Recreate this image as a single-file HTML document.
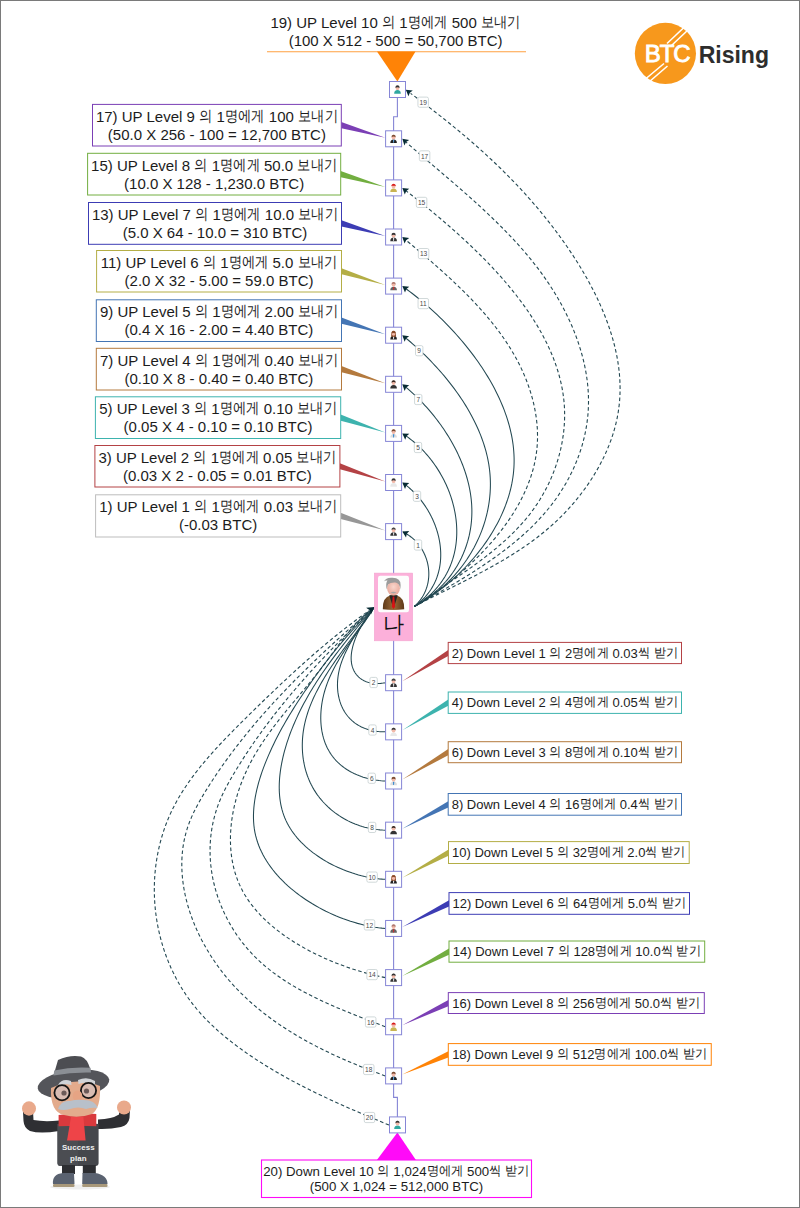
<!DOCTYPE html>
<html><head><meta charset="utf-8"><title>BTC Rising Success plan</title>
<style>
html,body{margin:0;padding:0;background:#fff;}
svg{display:block;font-family:"Liberation Sans",sans-serif;}
</style></head><body>
<svg width="800" height="1208" viewBox="0 0 800 1208">
<path d="M397.4 97 V116.7 H393.6 V1097.4 H397.4 V1117" fill="none" stroke="#8686d6" stroke-width="1.1"/>
<line x1="267" y1="51.7" x2="526" y2="51.7" stroke="#ffa040" stroke-width="1.15"/>
<polygon points="377,51.5 415.5,51.5 397.4,81.5" fill="#ff8306"/>
<text x="395.60" y="28.20" font-size="15" text-anchor="middle" fill="#1c1c1c" >19) UP Level 10 <tspan font-size="14.70" textLength="13.28" lengthAdjust="spacingAndGlyphs" baseline-shift="0.90">의</tspan> 1<tspan font-size="14.70" textLength="39.84" lengthAdjust="spacingAndGlyphs" baseline-shift="0.90">명에게</tspan> 500 <tspan font-size="14.70" textLength="39.84" lengthAdjust="spacingAndGlyphs" baseline-shift="0.90">보내기</tspan></text>
<text x="395.60" y="46.00" font-size="15" text-anchor="middle" fill="#1c1c1c" >(100 X 512 - 500 = 50,700 BTC)</text>
<polygon points="341.30,122.10 341.30,128.30 385.3,137.80" fill="#7b3fb5"/>
<rect x="92.50" y="104.40" width="248.80" height="41.60" fill="#fff" stroke="#7b3fb5" stroke-width="1"/>
<text x="216.90" y="121.90" font-size="15" text-anchor="middle" fill="#1c1c1c" >17) UP Level 9 <tspan font-size="14.70" textLength="13.28" lengthAdjust="spacingAndGlyphs" baseline-shift="0.90">의</tspan> 1<tspan font-size="14.70" textLength="39.84" lengthAdjust="spacingAndGlyphs" baseline-shift="0.90">명에게</tspan> 100 <tspan font-size="14.70" textLength="39.84" lengthAdjust="spacingAndGlyphs" baseline-shift="0.90">보내기</tspan></text>
<text x="216.90" y="139.80" font-size="15" text-anchor="middle" fill="#1c1c1c" >(50.0 X 256 - 100 = 12,700 BTC)</text>
<polygon points="340.70,171.05 340.70,177.25 385.3,186.90" fill="#72ae40"/>
<rect x="87.60" y="153.30" width="253.10" height="41.70" fill="#fff" stroke="#72ae40" stroke-width="1"/>
<text x="214.15" y="170.80" font-size="15" text-anchor="middle" fill="#1c1c1c" >15) UP Level 8 <tspan font-size="14.70" textLength="13.28" lengthAdjust="spacingAndGlyphs" baseline-shift="0.90">의</tspan> 1<tspan font-size="14.70" textLength="39.84" lengthAdjust="spacingAndGlyphs" baseline-shift="0.90">명에게</tspan> 50.0 <tspan font-size="14.70" textLength="39.84" lengthAdjust="spacingAndGlyphs" baseline-shift="0.90">보내기</tspan></text>
<text x="214.15" y="188.70" font-size="15" text-anchor="middle" fill="#1c1c1c" >(10.0 X 128 - 1,230.0 BTC)</text>
<polygon points="341.50,220.30 341.50,226.50 385.3,236.00" fill="#3c3cb4"/>
<rect x="88.50" y="202.50" width="253.00" height="41.80" fill="#fff" stroke="#3c3cb4" stroke-width="1"/>
<text x="215.00" y="220.00" font-size="15" text-anchor="middle" fill="#1c1c1c" >13) UP Level 7 <tspan font-size="14.70" textLength="13.28" lengthAdjust="spacingAndGlyphs" baseline-shift="0.90">의</tspan> 1<tspan font-size="14.70" textLength="39.84" lengthAdjust="spacingAndGlyphs" baseline-shift="0.90">명에게</tspan> 10.0 <tspan font-size="14.70" textLength="39.84" lengthAdjust="spacingAndGlyphs" baseline-shift="0.90">보내기</tspan></text>
<text x="215.00" y="237.90" font-size="15" text-anchor="middle" fill="#1c1c1c" >(5.0 X 64 - 10.0 = 310 BTC)</text>
<polygon points="341.50,268.15 341.50,274.35 385.3,285.10" fill="#b4ae46"/>
<rect x="96.60" y="250.50" width="244.90" height="41.50" fill="#fff" stroke="#b4ae46" stroke-width="1"/>
<text x="219.05" y="268.00" font-size="15" text-anchor="middle" fill="#1c1c1c" >11) UP Level 6 <tspan font-size="14.70" textLength="13.28" lengthAdjust="spacingAndGlyphs" baseline-shift="0.90">의</tspan> 1<tspan font-size="14.70" textLength="39.84" lengthAdjust="spacingAndGlyphs" baseline-shift="0.90">명에게</tspan> 5.0 <tspan font-size="14.70" textLength="39.84" lengthAdjust="spacingAndGlyphs" baseline-shift="0.90">보내기</tspan></text>
<text x="219.05" y="285.90" font-size="15" text-anchor="middle" fill="#1c1c1c" >(2.0 X 32 - 5.00 = 59.0 BTC)</text>
<polygon points="341.50,317.55 341.50,323.75 385.3,334.20" fill="#4475b4"/>
<rect x="96.30" y="299.80" width="245.20" height="41.70" fill="#fff" stroke="#4475b4" stroke-width="1"/>
<text x="218.90" y="317.30" font-size="15" text-anchor="middle" fill="#1c1c1c" >9) UP Level 5 <tspan font-size="14.70" textLength="13.28" lengthAdjust="spacingAndGlyphs" baseline-shift="0.90">의</tspan> 1<tspan font-size="14.70" textLength="39.84" lengthAdjust="spacingAndGlyphs" baseline-shift="0.90">명에게</tspan> 2.00 <tspan font-size="14.70" textLength="39.84" lengthAdjust="spacingAndGlyphs" baseline-shift="0.90">보내기</tspan></text>
<text x="218.90" y="335.20" font-size="15" text-anchor="middle" fill="#1c1c1c" >(0.4 X 16 - 2.00 = 4.40 BTC)</text>
<polygon points="341.50,366.05 341.50,372.25 385.3,383.30" fill="#b47a3e"/>
<rect x="96.30" y="348.30" width="245.20" height="41.70" fill="#fff" stroke="#b47a3e" stroke-width="1"/>
<text x="218.90" y="365.80" font-size="15" text-anchor="middle" fill="#1c1c1c" >7) UP Level 4 <tspan font-size="14.70" textLength="13.28" lengthAdjust="spacingAndGlyphs" baseline-shift="0.90">의</tspan> 1<tspan font-size="14.70" textLength="39.84" lengthAdjust="spacingAndGlyphs" baseline-shift="0.90">명에게</tspan> 0.40 <tspan font-size="14.70" textLength="39.84" lengthAdjust="spacingAndGlyphs" baseline-shift="0.90">보내기</tspan></text>
<text x="218.90" y="383.70" font-size="15" text-anchor="middle" fill="#1c1c1c" >(0.10 X 8 - 0.40 = 0.40 BTC)</text>
<polygon points="340.70,414.55 340.70,420.75 385.3,432.40" fill="#3db3ae"/>
<rect x="95.40" y="396.80" width="245.30" height="41.70" fill="#fff" stroke="#3db3ae" stroke-width="1"/>
<text x="218.05" y="414.30" font-size="15" text-anchor="middle" fill="#1c1c1c" >5) UP Level 3 <tspan font-size="14.70" textLength="13.28" lengthAdjust="spacingAndGlyphs" baseline-shift="0.90">의</tspan> 1<tspan font-size="14.70" textLength="39.84" lengthAdjust="spacingAndGlyphs" baseline-shift="0.90">명에게</tspan> 0.10 <tspan font-size="14.70" textLength="39.84" lengthAdjust="spacingAndGlyphs" baseline-shift="0.90">보내기</tspan></text>
<text x="218.05" y="432.20" font-size="15" text-anchor="middle" fill="#1c1c1c" >(0.05 X 4 - 0.10 = 0.10 BTC)</text>
<polygon points="339.90,463.15 339.90,469.35 385.3,481.50" fill="#b44245"/>
<rect x="94.90" y="445.50" width="245.00" height="41.50" fill="#fff" stroke="#b44245" stroke-width="1"/>
<text x="217.40" y="463.00" font-size="15" text-anchor="middle" fill="#1c1c1c" >3) UP Level 2 <tspan font-size="14.70" textLength="13.28" lengthAdjust="spacingAndGlyphs" baseline-shift="0.90">의</tspan> 1<tspan font-size="14.70" textLength="39.84" lengthAdjust="spacingAndGlyphs" baseline-shift="0.90">명에게</tspan> 0.05 <tspan font-size="14.70" textLength="39.84" lengthAdjust="spacingAndGlyphs" baseline-shift="0.90">보내기</tspan></text>
<text x="217.40" y="480.90" font-size="15" text-anchor="middle" fill="#1c1c1c" >(0.03 X 2 - 0.05 = 0.01 BTC)</text>
<polygon points="340.70,512.80 340.70,519.00 385.3,530.60" fill="#979797"/>
<rect x="95.60" y="494.80" width="245.10" height="42.20" fill="#fff" stroke="#bdbdbd" stroke-width="1"/>
<text x="218.15" y="512.30" font-size="15" text-anchor="middle" fill="#1c1c1c" >1) UP Level 1 <tspan font-size="14.70" textLength="13.28" lengthAdjust="spacingAndGlyphs" baseline-shift="0.90">의</tspan> 1<tspan font-size="14.70" textLength="39.84" lengthAdjust="spacingAndGlyphs" baseline-shift="0.90">명에게</tspan> 0.03 <tspan font-size="14.70" textLength="39.84" lengthAdjust="spacingAndGlyphs" baseline-shift="0.90">보내기</tspan></text>
<text x="218.15" y="530.20" font-size="15" text-anchor="middle" fill="#1c1c1c" >(-0.03 BTC)</text>
<polygon points="448.20,649.90 448.20,656.10 402.3,681.20" fill="#b44245"/>
<rect x="448.20" y="642.40" width="233.30" height="21.20" fill="#fff" stroke="#b44245" stroke-width="1"/>
<text x="564.85" y="657.70" font-size="13" text-anchor="middle" fill="#1c1c1c" >2) Down Level 1 <tspan font-size="12.74" textLength="12.20" lengthAdjust="spacingAndGlyphs" baseline-shift="0.78">의</tspan> 2<tspan font-size="12.74" textLength="36.60" lengthAdjust="spacingAndGlyphs" baseline-shift="0.78">명에게</tspan> 0.03<tspan font-size="12.74" textLength="12.20" lengthAdjust="spacingAndGlyphs" baseline-shift="0.78">씩</tspan> <tspan font-size="12.74" textLength="24.40" lengthAdjust="spacingAndGlyphs" baseline-shift="0.78">받기</tspan></text>
<polygon points="448.20,699.60 448.20,705.80 402.3,730.35" fill="#3db3ae"/>
<rect x="448.20" y="692.00" width="233.30" height="21.40" fill="#fff" stroke="#3db3ae" stroke-width="1"/>
<text x="564.85" y="707.30" font-size="13" text-anchor="middle" fill="#1c1c1c" >4) Down Level 2 <tspan font-size="12.74" textLength="12.20" lengthAdjust="spacingAndGlyphs" baseline-shift="0.78">의</tspan> 4<tspan font-size="12.74" textLength="36.60" lengthAdjust="spacingAndGlyphs" baseline-shift="0.78">명에게</tspan> 0.05<tspan font-size="12.74" textLength="12.20" lengthAdjust="spacingAndGlyphs" baseline-shift="0.78">씩</tspan> <tspan font-size="12.74" textLength="24.40" lengthAdjust="spacingAndGlyphs" baseline-shift="0.78">받기</tspan></text>
<polygon points="448.20,749.10 448.20,755.30 402.3,779.50" fill="#b47a3e"/>
<rect x="448.20" y="741.70" width="233.30" height="21.00" fill="#fff" stroke="#b47a3e" stroke-width="1"/>
<text x="564.85" y="757.00" font-size="13" text-anchor="middle" fill="#1c1c1c" >6) Down Level 3 <tspan font-size="12.74" textLength="12.20" lengthAdjust="spacingAndGlyphs" baseline-shift="0.78">의</tspan> 8<tspan font-size="12.74" textLength="36.60" lengthAdjust="spacingAndGlyphs" baseline-shift="0.78">명에게</tspan> 0.10<tspan font-size="12.74" textLength="12.20" lengthAdjust="spacingAndGlyphs" baseline-shift="0.78">씩</tspan> <tspan font-size="12.74" textLength="24.40" lengthAdjust="spacingAndGlyphs" baseline-shift="0.78">받기</tspan></text>
<polygon points="448.20,801.25 448.20,807.45 402.3,828.65" fill="#4475b4"/>
<rect x="448.20" y="793.50" width="233.30" height="21.70" fill="#fff" stroke="#4475b4" stroke-width="1"/>
<text x="564.85" y="808.80" font-size="13" text-anchor="middle" fill="#1c1c1c" >8) Down Level 4 <tspan font-size="12.74" textLength="12.20" lengthAdjust="spacingAndGlyphs" baseline-shift="0.78">의</tspan> 16<tspan font-size="12.74" textLength="36.60" lengthAdjust="spacingAndGlyphs" baseline-shift="0.78">명에게</tspan> 0.4<tspan font-size="12.74" textLength="12.20" lengthAdjust="spacingAndGlyphs" baseline-shift="0.78">씩</tspan> <tspan font-size="12.74" textLength="24.40" lengthAdjust="spacingAndGlyphs" baseline-shift="0.78">받기</tspan></text>
<polygon points="448.50,849.45 448.50,855.65 402.3,877.80" fill="#b4ae46"/>
<rect x="448.50" y="841.60" width="240.70" height="21.90" fill="#fff" stroke="#b4ae46" stroke-width="1"/>
<text x="568.85" y="856.90" font-size="13" text-anchor="middle" fill="#1c1c1c" >10) Down Level 5 <tspan font-size="12.74" textLength="12.20" lengthAdjust="spacingAndGlyphs" baseline-shift="0.78">의</tspan> 32<tspan font-size="12.74" textLength="36.60" lengthAdjust="spacingAndGlyphs" baseline-shift="0.78">명에게</tspan> 2.0<tspan font-size="12.74" textLength="12.20" lengthAdjust="spacingAndGlyphs" baseline-shift="0.78">씩</tspan> <tspan font-size="12.74" textLength="24.40" lengthAdjust="spacingAndGlyphs" baseline-shift="0.78">받기</tspan></text>
<polygon points="449.00,900.35 449.00,906.55 402.3,926.95" fill="#3c3cb4"/>
<rect x="449.00" y="892.60" width="240.50" height="21.70" fill="#fff" stroke="#3c3cb4" stroke-width="1"/>
<text x="569.25" y="907.90" font-size="13" text-anchor="middle" fill="#1c1c1c" >12) Down Level 6 <tspan font-size="12.74" textLength="12.20" lengthAdjust="spacingAndGlyphs" baseline-shift="0.78">의</tspan> 64<tspan font-size="12.74" textLength="36.60" lengthAdjust="spacingAndGlyphs" baseline-shift="0.78">명에게</tspan> 5.0<tspan font-size="12.74" textLength="12.20" lengthAdjust="spacingAndGlyphs" baseline-shift="0.78">씩</tspan> <tspan font-size="12.74" textLength="24.40" lengthAdjust="spacingAndGlyphs" baseline-shift="0.78">받기</tspan></text>
<polygon points="449.00,948.50 449.00,954.70 402.3,976.10" fill="#72ae40"/>
<rect x="449.00" y="941.00" width="255.70" height="21.20" fill="#fff" stroke="#72ae40" stroke-width="1"/>
<text x="576.85" y="956.30" font-size="13" text-anchor="middle" fill="#1c1c1c" >14) Down Level 7 <tspan font-size="12.74" textLength="12.20" lengthAdjust="spacingAndGlyphs" baseline-shift="0.78">의</tspan> 128<tspan font-size="12.74" textLength="36.60" lengthAdjust="spacingAndGlyphs" baseline-shift="0.78">명에게</tspan> 10.0<tspan font-size="12.74" textLength="12.20" lengthAdjust="spacingAndGlyphs" baseline-shift="0.78">씩</tspan> <tspan font-size="12.74" textLength="24.40" lengthAdjust="spacingAndGlyphs" baseline-shift="0.78">받기</tspan></text>
<polygon points="448.30,999.95 448.30,1006.15 402.3,1025.25" fill="#7b3fb5"/>
<rect x="448.30" y="992.60" width="256.00" height="20.90" fill="#fff" stroke="#7b3fb5" stroke-width="1"/>
<text x="576.30" y="1007.90" font-size="13" text-anchor="middle" fill="#1c1c1c" >16) Down Level 8 <tspan font-size="12.74" textLength="12.20" lengthAdjust="spacingAndGlyphs" baseline-shift="0.78">의</tspan> 256<tspan font-size="12.74" textLength="36.60" lengthAdjust="spacingAndGlyphs" baseline-shift="0.78">명에게</tspan> 50.0<tspan font-size="12.74" textLength="12.20" lengthAdjust="spacingAndGlyphs" baseline-shift="0.78">씩</tspan> <tspan font-size="12.74" textLength="24.40" lengthAdjust="spacingAndGlyphs" baseline-shift="0.78">받기</tspan></text>
<polygon points="448.30,1051.35 448.30,1057.55 402.3,1074.40" fill="#ff8306"/>
<rect x="448.30" y="1043.60" width="262.95" height="21.70" fill="#fff" stroke="#ff8306" stroke-width="1"/>
<text x="579.77" y="1058.90" font-size="13" text-anchor="middle" fill="#1c1c1c" >18) Down Level 9 <tspan font-size="12.74" textLength="12.20" lengthAdjust="spacingAndGlyphs" baseline-shift="0.78">의</tspan> 512<tspan font-size="12.74" textLength="36.60" lengthAdjust="spacingAndGlyphs" baseline-shift="0.78">명에게</tspan> 100.0<tspan font-size="12.74" textLength="12.20" lengthAdjust="spacingAndGlyphs" baseline-shift="0.78">씩</tspan> <tspan font-size="12.74" textLength="24.40" lengthAdjust="spacingAndGlyphs" baseline-shift="0.78">받기</tspan></text>
<polygon points="376.9,1160 415.9,1160 397.4,1132.5" fill="#ff0af8"/>
<rect x="261.5" y="1160" width="270" height="37.5" fill="#fff" stroke="#ff0af8" stroke-width="1.1"/>
<text x="396.50" y="1175.60" font-size="13.25" text-anchor="middle" fill="#1c1c1c" >20) Down Level 10 <tspan font-size="12.98" textLength="12.30" lengthAdjust="spacingAndGlyphs" baseline-shift="0.79">의</tspan> 1,024<tspan font-size="12.98" textLength="36.90" lengthAdjust="spacingAndGlyphs" baseline-shift="0.79">명에게</tspan> 500<tspan font-size="12.98" textLength="12.30" lengthAdjust="spacingAndGlyphs" baseline-shift="0.79">씩</tspan> <tspan font-size="12.98" textLength="24.60" lengthAdjust="spacingAndGlyphs" baseline-shift="0.79">받기</tspan></text>
<text x="396.50" y="1191.20" font-size="13.25" text-anchor="middle" fill="#1c1c1c" >(500 X 1,024 = 512,000 BTC)</text>
<path d="M414.25 606.50 L414.85 605.96 L415.44 605.41 L416.02 604.85 L416.58 604.28 L417.13 603.71 L417.67 603.13 L418.19 602.54 L418.70 601.95 L419.20 601.35 L419.68 600.75 L420.16 600.13 L420.61 599.51 L421.06 598.89 L421.49 598.26 L421.91 597.62 L422.32 596.98 L422.71 596.34 L423.10 595.69 L423.47 595.03 L423.82 594.37 L424.17 593.70 L424.50 593.03 L424.82 592.36 L425.12 591.68 L425.42 591.00 L425.70 590.31 L425.97 589.62 L426.22 588.93 L426.47 588.23 L426.70 587.53 L426.92 586.82 L427.13 586.12 L427.32 585.41 L427.51 584.70 L427.68 583.98 L427.84 583.27 L427.98 582.55 L428.12 581.83 L428.24 581.11 L428.35 580.38 L428.45 579.66 L428.54 578.93 L428.61 578.20 L428.68 577.47 L428.73 576.74 L428.77 576.01 L428.80 575.28 L428.81 574.55 L428.82 573.82 L428.81 573.09 L428.79 572.36 L428.76 571.63 L428.72 570.90 L428.67 570.17 L428.61 569.44 L428.53 568.71 L428.44 567.98 L428.34 567.26 L428.23 566.53 L428.11 565.81 L427.98 565.09 L427.84 564.37 L427.68 563.65 L427.52 562.94 L427.34 562.22 L427.15 561.51 L426.96 560.81 L426.75 560.10 L426.53 559.40 L426.29 558.70 L426.05 558.01 L425.80 557.31 L425.53 556.62 L425.26 555.94 L424.97 555.26 L424.68 554.58 L424.37 553.91 L424.05 553.24 L423.73 552.58 L423.39 551.92 L423.04 551.27 L422.68 550.62 L422.31 549.97 L421.93 549.34 L421.54 548.70 L421.13 548.08 L420.72 547.45 L420.30 546.84 L419.87 546.23 L419.42 545.63 L418.97 545.03 L418.51 544.44 L418.04 543.86 L417.55 543.28 L417.06 542.71 L416.56 542.15 L416.04 541.60 L415.52 541.05 L414.99 540.51 L414.44 539.98 L413.89 539.46 L413.33 538.94 L412.76 538.44 L412.18 537.94 L411.58 537.45 L410.98 536.97 L410.37 536.50 L409.75 536.04 L409.12 535.58 L408.48 535.14 L407.83 534.70 L407.17 534.28 L406.50 533.87 L405.83 533.46 L405.14 533.07 L404.44 532.69 L403.74 532.31 L403.02 531.95" fill="none" stroke="#234852" stroke-width="1.05"/>
<polygon points="402.30,531.60 409.28,531.12 406.76,533.87 406.01,537.53" fill="#072b34"/>
<path d="M414.25 606.50 L415.36 605.70 L416.45 604.89 L417.51 604.07 L418.54 603.23 L419.55 602.38 L420.53 601.51 L421.49 600.64 L422.42 599.75 L423.33 598.84 L424.21 597.93 L425.07 597.00 L425.90 596.06 L426.71 595.11 L427.50 594.15 L428.26 593.18 L428.99 592.20 L429.71 591.21 L430.39 590.20 L431.06 589.19 L431.70 588.17 L432.32 587.14 L432.92 586.10 L433.49 585.05 L434.04 583.99 L434.56 582.93 L435.07 581.85 L435.55 580.77 L436.01 579.68 L436.44 578.59 L436.86 577.48 L437.25 576.37 L437.62 575.26 L437.97 574.13 L438.30 573.01 L438.61 571.87 L438.89 570.73 L439.15 569.59 L439.40 568.44 L439.62 567.28 L439.82 566.12 L440.00 564.96 L440.16 563.79 L440.30 562.62 L440.42 561.45 L440.52 560.27 L440.60 559.09 L440.66 557.91 L440.71 556.73 L440.73 555.54 L440.73 554.35 L440.71 553.16 L440.68 551.97 L440.62 550.77 L440.55 549.58 L440.46 548.39 L440.35 547.19 L440.22 546.00 L440.07 544.80 L439.91 543.61 L439.72 542.42 L439.52 541.22 L439.31 540.03 L439.07 538.84 L438.82 537.65 L438.55 536.47 L438.26 535.28 L437.96 534.10 L437.63 532.93 L437.30 531.75 L436.94 530.58 L436.57 529.41 L436.19 528.24 L435.78 527.08 L435.36 525.93 L434.93 524.78 L434.48 523.63 L434.01 522.49 L433.53 521.35 L433.04 520.22 L432.53 519.09 L432.00 517.97 L431.46 516.86 L430.90 515.76 L430.33 514.66 L429.75 513.56 L429.15 512.48 L428.54 511.40 L427.91 510.33 L427.27 509.27 L426.61 508.22 L425.95 507.18 L425.26 506.14 L424.57 505.11 L423.86 504.10 L423.14 503.09 L422.41 502.09 L421.66 501.11 L420.90 500.13 L420.13 499.17 L419.35 498.21 L418.55 497.27 L417.74 496.34 L416.92 495.42 L416.09 494.51 L415.25 493.61 L414.39 492.73 L413.53 491.86 L412.65 491.00 L411.76 490.16 L410.86 489.33 L409.95 488.51 L409.03 487.71 L408.10 486.92 L407.16 486.14 L406.21 485.38 L405.24 484.64 L404.27 483.91 L403.29 483.20" fill="none" stroke="#234852" stroke-width="1.05"/>
<polygon points="402.30,482.50 409.27,483.12 406.34,485.44 405.03,488.94" fill="#072b34"/>
<path d="M414.25 606.50 L415.95 605.48 L417.61 604.43 L419.23 603.37 L420.82 602.28 L422.37 601.16 L423.88 600.03 L425.36 598.88 L426.80 597.70 L428.20 596.51 L429.57 595.29 L430.90 594.06 L432.19 592.81 L433.45 591.53 L434.68 590.24 L435.87 588.94 L437.02 587.61 L438.14 586.27 L439.23 584.91 L440.28 583.54 L441.29 582.15 L442.27 580.74 L443.22 579.32 L444.14 577.89 L445.02 576.44 L445.86 574.97 L446.68 573.50 L447.46 572.01 L448.21 570.51 L448.92 568.99 L449.60 567.47 L450.25 565.93 L450.87 564.38 L451.46 562.82 L452.01 561.26 L452.54 559.68 L453.03 558.09 L453.49 556.49 L453.92 554.89 L454.32 553.27 L454.68 551.65 L455.02 550.03 L455.33 548.39 L455.61 546.75 L455.85 545.10 L456.07 543.45 L456.26 541.79 L456.42 540.12 L456.54 538.46 L456.64 536.78 L456.71 535.11 L456.76 533.43 L456.77 531.74 L456.76 530.06 L456.71 528.37 L456.64 526.68 L456.55 524.99 L456.42 523.30 L456.27 521.61 L456.09 519.92 L455.88 518.23 L455.64 516.54 L455.38 514.85 L455.09 513.16 L454.78 511.47 L454.44 509.79 L454.07 508.11 L453.68 506.43 L453.26 504.76 L452.82 503.09 L452.35 501.42 L451.86 499.76 L451.34 498.10 L450.80 496.45 L450.23 494.81 L449.64 493.17 L449.03 491.53 L448.39 489.91 L447.72 488.29 L447.04 486.68 L446.33 485.08 L445.59 483.49 L444.84 481.91 L444.06 480.33 L443.25 478.77 L442.43 477.21 L441.58 475.67 L440.71 474.14 L439.82 472.62 L438.91 471.11 L437.97 469.62 L437.02 468.13 L436.04 466.66 L435.04 465.21 L434.02 463.76 L432.98 462.34 L431.92 460.92 L430.84 459.52 L429.74 458.14 L428.62 456.77 L427.48 455.42 L426.32 454.09 L425.14 452.77 L423.94 451.47 L422.73 450.19 L421.49 448.93 L420.23 447.69 L418.96 446.46 L417.67 445.25 L416.36 444.07 L415.03 442.90 L413.68 441.76 L412.32 440.64 L410.94 439.54 L409.54 438.46 L408.13 437.40 L406.69 436.36 L405.25 435.35 L403.78 434.36" fill="none" stroke="#234852" stroke-width="1.05"/>
<polygon points="402.30,433.40 409.29,433.77 406.45,436.20 405.26,439.74" fill="#072b34"/>
<path d="M414.25 606.50 L416.42 605.29 L418.55 604.05 L420.64 602.78 L422.69 601.47 L424.70 600.13 L426.67 598.76 L428.59 597.36 L430.48 595.93 L432.32 594.46 L434.12 592.97 L435.87 591.45 L437.59 589.91 L439.26 588.33 L440.90 586.73 L442.49 585.10 L444.04 583.45 L445.55 581.77 L447.01 580.07 L448.44 578.34 L449.82 576.59 L451.16 574.82 L452.46 573.03 L453.71 571.21 L454.93 569.38 L456.10 567.52 L457.23 565.65 L458.32 563.76 L459.37 561.85 L460.37 559.92 L461.34 557.98 L462.26 556.02 L463.14 554.04 L463.97 552.05 L464.77 550.05 L465.52 548.03 L466.23 546.00 L466.90 543.95 L467.53 541.90 L468.11 539.83 L468.66 537.75 L469.16 535.66 L469.61 533.57 L470.03 531.46 L470.40 529.35 L470.74 527.23 L471.03 525.10 L471.27 522.97 L471.48 520.83 L471.64 518.69 L471.76 516.54 L471.84 514.39 L471.88 512.23 L471.87 510.07 L471.82 507.91 L471.73 505.75 L471.60 503.59 L471.42 501.43 L471.21 499.27 L470.95 497.11 L470.66 494.95 L470.33 492.79 L469.95 490.63 L469.54 488.48 L469.10 486.33 L468.61 484.18 L468.09 482.03 L467.53 479.89 L466.94 477.75 L466.32 475.62 L465.65 473.49 L464.96 471.37 L464.23 469.25 L463.47 467.14 L462.68 465.04 L461.85 462.94 L460.99 460.85 L460.11 458.77 L459.19 456.70 L458.24 454.64 L457.27 452.59 L456.27 450.54 L455.23 448.51 L454.17 446.49 L453.09 444.48 L451.98 442.48 L450.84 440.49 L449.68 438.51 L448.49 436.55 L447.27 434.60 L446.04 432.66 L444.78 430.74 L443.50 428.83 L442.19 426.94 L440.87 425.06 L439.52 423.20 L438.16 421.35 L436.77 419.52 L435.36 417.71 L433.94 415.91 L432.50 414.13 L431.03 412.37 L429.56 410.63 L428.06 408.91 L426.55 407.21 L425.02 405.53 L423.48 403.87 L421.92 402.22 L420.35 400.60 L418.77 399.01 L417.17 397.43 L415.56 395.88 L413.94 394.34 L412.31 392.84 L410.66 391.35 L409.01 389.89 L407.34 388.46 L405.67 387.05 L403.99 385.66" fill="none" stroke="#234852" stroke-width="1.05"/>
<polygon points="402.30,384.30 409.22,385.34 406.16,387.48 404.64,390.90" fill="#072b34"/>
<path d="M414.25 606.50 L416.84 605.11 L419.39 603.68 L421.90 602.20 L424.37 600.68 L426.80 599.11 L429.20 597.50 L431.55 595.84 L433.87 594.14 L436.14 592.40 L438.37 590.62 L440.56 588.80 L442.71 586.95 L444.82 585.05 L446.88 583.12 L448.90 581.15 L450.88 579.15 L452.81 577.11 L454.70 575.04 L456.55 572.94 L458.35 570.81 L460.11 568.64 L461.82 566.45 L463.49 564.22 L465.10 561.97 L466.68 559.70 L468.20 557.39 L469.68 555.06 L471.11 552.71 L472.49 550.33 L473.83 547.93 L475.11 545.51 L476.35 543.07 L477.54 540.60 L478.67 538.12 L479.76 535.62 L480.80 533.10 L481.78 530.57 L482.72 528.02 L483.60 525.46 L484.43 522.88 L485.21 520.29 L485.93 517.69 L486.61 515.07 L487.23 512.45 L487.79 509.81 L488.30 507.17 L488.76 504.52 L489.16 501.86 L489.50 499.20 L489.79 496.53 L490.03 493.86 L490.20 491.19 L490.33 488.51 L490.39 485.83 L490.40 483.15 L490.34 480.47 L490.23 477.79 L490.06 475.12 L489.84 472.45 L489.55 469.78 L489.20 467.11 L488.80 464.45 L488.34 461.80 L487.82 459.15 L487.25 456.51 L486.62 453.87 L485.94 451.24 L485.21 448.62 L484.42 446.01 L483.59 443.40 L482.71 440.81 L481.77 438.22 L480.80 435.64 L479.77 433.08 L478.70 430.52 L477.59 427.98 L476.43 425.44 L475.23 422.92 L473.99 420.41 L472.71 417.92 L471.40 415.44 L470.04 412.97 L468.64 410.51 L467.21 408.07 L465.75 405.64 L464.25 403.23 L462.72 400.84 L461.15 398.46 L459.56 396.10 L457.93 393.76 L456.28 391.43 L454.60 389.12 L452.89 386.83 L451.15 384.56 L449.39 382.31 L447.61 380.08 L445.80 377.87 L443.98 375.67 L442.13 373.50 L440.26 371.36 L438.37 369.23 L436.46 367.12 L434.54 365.04 L432.60 362.99 L430.65 360.95 L428.68 358.94 L426.70 356.95 L424.71 354.99 L422.70 353.06 L420.69 351.15 L418.67 349.27 L416.64 347.41 L414.60 345.58 L412.56 343.78 L410.51 342.01 L408.46 340.26 L406.41 338.54 L404.35 336.86" fill="none" stroke="#234852" stroke-width="1.05"/>
<polygon points="402.30,335.20 409.22,336.23 406.16,338.37 404.65,341.79" fill="#072b34"/>
<path d="M414.25 606.50 L417.09 604.94 L419.92 603.33 L422.74 601.65 L425.54 599.92 L428.33 598.13 L431.11 596.28 L433.86 594.38 L436.60 592.43 L439.31 590.42 L442.00 588.37 L444.66 586.26 L447.30 584.11 L449.92 581.91 L452.50 579.66 L455.05 577.36 L457.57 575.02 L460.06 572.64 L462.51 570.22 L464.92 567.75 L467.29 565.25 L469.63 562.70 L471.92 560.12 L474.17 557.51 L476.38 554.85 L478.54 552.16 L480.65 549.44 L482.71 546.69 L484.72 543.91 L486.68 541.09 L488.59 538.25 L490.44 535.38 L492.23 532.48 L493.96 529.56 L495.63 526.61 L497.24 523.64 L498.79 520.65 L500.28 517.63 L501.69 514.60 L503.04 511.55 L504.32 508.48 L505.53 505.39 L506.66 502.29 L507.73 499.17 L508.71 496.04 L509.62 492.90 L510.45 489.75 L511.20 486.59 L511.87 483.42 L512.45 480.24 L512.95 477.05 L513.36 473.86 L513.68 470.66 L513.92 467.46 L514.06 464.26 L514.12 461.06 L514.09 457.85 L513.97 454.65 L513.77 451.45 L513.49 448.24 L513.13 445.04 L512.69 441.84 L512.17 438.65 L511.57 435.46 L510.90 432.28 L510.16 429.10 L509.34 425.92 L508.46 422.76 L507.50 419.60 L506.48 416.45 L505.39 413.31 L504.24 410.18 L503.02 407.06 L501.74 403.95 L500.41 400.86 L499.01 397.78 L497.56 394.71 L496.05 391.65 L494.49 388.61 L492.87 385.59 L491.21 382.58 L489.49 379.59 L487.73 376.62 L485.92 373.67 L484.06 370.74 L482.17 367.83 L480.22 364.93 L478.24 362.07 L476.22 359.22 L474.16 356.39 L472.07 353.59 L469.94 350.82 L467.78 348.07 L465.59 345.35 L463.36 342.65 L461.11 339.98 L458.83 337.34 L456.52 334.73 L454.19 332.14 L451.84 329.59 L449.47 327.07 L447.07 324.59 L444.66 322.13 L442.23 319.71 L439.79 317.32 L437.33 314.97 L434.86 312.65 L432.38 310.37 L429.89 308.12 L427.39 305.92 L424.89 303.75 L422.38 301.62 L419.86 299.54 L417.35 297.49 L414.83 295.48 L412.32 293.52 L409.81 291.60 L407.30 289.72 L404.80 287.89" fill="none" stroke="#234852" stroke-width="1.05"/>
<polygon points="402.30,286.10 409.27,286.74 406.33,289.05 405.01,292.55" fill="#072b34"/>
<path d="M414.25 606.50 L417.39 604.56 L420.54 602.58 L423.70 600.54 L426.87 598.44 L430.04 596.30 L433.21 594.10 L436.38 591.86 L439.54 589.56 L442.70 587.22 L445.85 584.83 L448.98 582.39 L452.11 579.91 L455.21 577.38 L458.30 574.80 L461.36 572.19 L464.40 569.52 L467.42 566.82 L470.40 564.07 L473.35 561.28 L476.27 558.46 L479.15 555.59 L482.00 552.68 L484.80 549.74 L487.55 546.75 L490.26 543.73 L492.92 540.68 L495.53 537.59 L498.09 534.46 L500.59 531.30 L503.03 528.11 L505.40 524.88 L507.72 521.63 L509.96 518.34 L512.14 515.02 L514.25 511.68 L516.28 508.30 L518.23 504.90 L520.11 501.47 L521.90 498.01 L523.61 494.53 L525.24 491.02 L526.77 487.49 L528.21 483.93 L529.56 480.35 L530.82 476.75 L531.97 473.13 L533.02 469.49 L533.97 465.83 L534.81 462.14 L535.54 458.45 L536.16 454.73 L536.66 450.99 L537.05 447.24 L537.33 443.48 L537.49 439.70 L537.53 435.91 L537.47 432.12 L537.30 428.32 L537.02 424.51 L536.63 420.70 L536.14 416.90 L535.55 413.09 L534.87 409.29 L534.08 405.50 L533.20 401.71 L532.22 397.94 L531.15 394.18 L529.99 390.43 L528.75 386.70 L527.41 382.99 L526.00 379.30 L524.49 375.63 L522.91 371.99 L521.25 368.38 L519.51 364.79 L517.70 361.24 L515.81 357.72 L513.85 354.24 L511.82 350.79 L509.73 347.37 L507.57 343.98 L505.35 340.63 L503.07 337.31 L500.74 334.02 L498.35 330.77 L495.91 327.54 L493.42 324.35 L490.88 321.19 L488.30 318.06 L485.67 314.96 L483.01 311.89 L480.31 308.85 L477.58 305.83 L474.81 302.85 L472.01 299.90 L469.19 296.98 L466.34 294.08 L463.47 291.21 L460.57 288.37 L457.67 285.56 L454.74 282.78 L451.80 280.02 L448.86 277.29 L445.90 274.58 L442.94 271.90 L439.98 269.25 L437.01 266.63 L434.05 264.02 L431.10 261.45 L428.14 258.90 L425.20 256.37 L422.27 253.87 L419.36 251.39 L416.46 248.93 L413.58 246.50 L410.72 244.09 L407.89 241.71 L405.08 239.34" fill="none" stroke="#234852" stroke-dasharray="3.6 2.5" stroke-width="1.1"/>
<polygon points="402.30,237.00 409.21,238.11 406.12,240.22 404.57,243.62" fill="#072b34"/>
<path d="M414.25 606.50 L417.73 604.02 L421.27 601.53 L424.87 599.05 L428.51 596.56 L432.19 594.05 L435.91 591.54 L439.67 589.02 L443.45 586.48 L447.25 583.92 L451.07 581.34 L454.90 578.74 L458.74 576.12 L462.58 573.47 L466.42 570.79 L470.25 568.08 L474.07 565.34 L477.86 562.56 L481.64 559.74 L485.38 556.88 L489.09 553.98 L492.76 551.04 L496.39 548.05 L499.96 545.01 L503.49 541.91 L506.95 538.77 L510.35 535.56 L513.68 532.30 L516.93 528.98 L520.10 525.59 L523.19 522.14 L526.19 518.63 L529.09 515.04 L531.89 511.38 L534.59 507.65 L537.18 503.84 L539.66 499.97 L542.04 496.04 L544.30 492.05 L546.45 488.00 L548.49 483.90 L550.41 479.76 L552.22 475.57 L553.91 471.33 L555.48 467.06 L556.93 462.76 L558.26 458.43 L559.47 454.07 L560.56 449.69 L561.52 445.30 L562.35 440.88 L563.06 436.46 L563.64 432.03 L564.09 427.59 L564.40 423.16 L564.59 418.73 L564.64 414.30 L564.55 409.89 L564.33 405.49 L563.97 401.12 L563.47 396.75 L562.85 392.41 L562.10 388.09 L561.22 383.79 L560.21 379.50 L559.09 375.24 L557.85 371.00 L556.50 366.78 L555.04 362.58 L553.47 358.41 L551.79 354.26 L550.01 350.13 L548.14 346.02 L546.16 341.94 L544.10 337.89 L541.94 333.85 L539.70 329.85 L537.37 325.87 L534.96 321.92 L532.47 317.99 L529.90 314.09 L527.27 310.22 L524.56 306.37 L521.79 302.56 L518.95 298.77 L516.05 295.02 L513.10 291.29 L510.08 287.59 L507.02 283.93 L503.91 280.29 L500.75 276.69 L497.55 273.12 L494.31 269.58 L491.03 266.07 L487.72 262.60 L484.37 259.16 L481.00 255.76 L477.60 252.39 L474.18 249.05 L470.73 245.76 L467.28 242.49 L463.80 239.27 L460.32 236.08 L456.83 232.92 L453.34 229.81 L449.84 226.73 L446.34 223.69 L442.85 220.69 L439.36 217.73 L435.88 214.81 L432.42 211.93 L428.97 209.09 L425.54 206.30 L422.13 203.54 L418.75 200.83 L415.39 198.15 L412.07 195.53 L408.78 192.94 L405.52 190.40" fill="none" stroke="#234852" stroke-dasharray="3.6 2.5" stroke-width="1.1"/>
<polygon points="402.30,187.90 409.24,188.76 406.24,190.98 404.81,194.43" fill="#072b34"/>
<path d="M414.25 606.50 L418.47 604.11 L422.75 601.70 L427.07 599.26 L431.44 596.78 L435.84 594.27 L440.28 591.73 L444.74 589.16 L449.23 586.54 L453.72 583.89 L458.23 581.20 L462.75 578.46 L467.26 575.68 L471.77 572.85 L476.26 569.98 L480.73 567.06 L485.19 564.08 L489.61 561.06 L494.00 557.98 L498.35 554.84 L502.66 551.65 L506.91 548.40 L511.11 545.08 L515.25 541.71 L519.32 538.27 L523.31 534.77 L527.23 531.20 L531.07 527.56 L534.81 523.85 L538.46 520.06 L542.01 516.21 L545.46 512.28 L548.79 508.27 L552.01 504.18 L555.11 500.02 L558.08 495.78 L560.94 491.48 L563.66 487.11 L566.26 482.67 L568.73 478.17 L571.06 473.62 L573.26 469.02 L575.32 464.36 L577.24 459.66 L579.02 454.91 L580.65 450.12 L582.13 445.29 L583.47 440.43 L584.66 435.53 L585.69 430.61 L586.56 425.66 L587.28 420.70 L587.84 415.71 L588.23 410.70 L588.46 405.69 L588.52 400.66 L588.42 395.63 L588.16 390.60 L587.75 385.56 L587.18 380.53 L586.47 375.50 L585.60 370.48 L584.60 365.46 L583.46 360.47 L582.19 355.48 L580.78 350.52 L579.25 345.58 L577.59 340.66 L575.82 335.77 L573.93 330.91 L571.92 326.08 L569.81 321.28 L567.59 316.53 L565.26 311.81 L562.84 307.14 L560.33 302.52 L557.72 297.95 L555.02 293.42 L552.24 288.96 L549.38 284.55 L546.45 280.19 L543.43 275.89 L540.35 271.64 L537.19 267.45 L533.97 263.30 L530.69 259.20 L527.34 255.15 L523.94 251.15 L520.49 247.19 L516.98 243.28 L513.42 239.40 L509.82 235.57 L506.18 231.77 L502.49 228.01 L498.77 224.29 L495.01 220.61 L491.23 216.95 L487.41 213.33 L483.57 209.74 L479.71 206.17 L475.83 202.64 L471.93 199.13 L468.02 195.64 L464.10 192.18 L460.17 188.74 L456.24 185.32 L452.30 181.92 L448.36 178.54 L444.43 175.17 L440.51 171.82 L436.60 168.48 L432.70 165.16 L428.81 161.84 L424.94 158.53 L421.10 155.23 L417.28 151.94 L413.49 148.65 L409.72 145.37 L405.99 142.08" fill="none" stroke="#234852" stroke-dasharray="3.6 2.5" stroke-width="1.1"/>
<polygon points="402.30,138.80 409.18,140.06 406.05,142.10 404.43,145.47" fill="#072b34"/>
<path d="M414.25 606.50 L419.30 603.84 L424.39 601.21 L429.52 598.59 L434.67 595.99 L439.86 593.39 L445.07 590.79 L450.30 588.18 L455.53 585.57 L460.78 582.94 L466.02 580.28 L471.27 577.60 L476.50 574.89 L481.72 572.13 L486.93 569.33 L492.11 566.49 L497.26 563.58 L502.38 560.62 L507.46 557.59 L512.49 554.48 L517.48 551.30 L522.41 548.04 L527.29 544.68 L532.10 541.23 L536.84 537.69 L541.51 534.03 L546.10 530.27 L550.61 526.38 L555.02 522.38 L559.35 518.26 L563.57 514.03 L567.68 509.68 L571.69 505.24 L575.58 500.69 L579.34 496.05 L582.98 491.31 L586.48 486.50 L589.84 481.60 L593.05 476.62 L596.11 471.57 L599.02 466.45 L601.76 461.27 L604.34 456.03 L606.74 450.73 L608.96 445.39 L610.99 439.99 L612.84 434.56 L614.48 429.09 L615.93 423.59 L617.16 418.07 L618.18 412.52 L618.98 406.95 L619.56 401.36 L619.93 395.77 L620.09 390.16 L620.04 384.55 L619.79 378.93 L619.35 373.31 L618.72 367.68 L617.91 362.06 L616.92 356.45 L615.76 350.84 L614.44 345.24 L612.95 339.65 L611.31 334.07 L609.52 328.52 L607.59 322.98 L605.52 317.46 L603.31 311.96 L600.98 306.49 L598.53 301.05 L595.95 295.64 L593.27 290.26 L590.48 284.92 L587.60 279.61 L584.61 274.35 L581.54 269.13 L578.38 263.95 L575.15 258.82 L571.84 253.74 L568.47 248.71 L565.03 243.74 L561.54 238.82 L558.00 233.96 L554.41 229.16 L550.78 224.43 L547.11 219.76 L543.40 215.15 L539.65 210.60 L535.87 206.11 L532.05 201.67 L528.19 197.29 L524.29 192.96 L520.35 188.68 L516.38 184.45 L512.37 180.27 L508.33 176.14 L504.24 172.04 L500.13 168.00 L495.97 163.99 L491.78 160.02 L487.56 156.09 L483.30 152.19 L479.01 148.33 L474.68 144.50 L470.32 140.70 L465.92 136.93 L461.49 133.19 L457.03 129.47 L452.53 125.78 L448.00 122.11 L443.44 118.46 L438.84 114.83 L434.22 111.21 L429.56 107.62 L424.87 104.03 L420.15 100.46 L415.40 96.90 L410.61 93.34" fill="none" stroke="#234852" stroke-dasharray="3.6 2.5" stroke-width="1.1"/>
<polygon points="405.80,89.80 412.76,90.49 409.81,92.78 408.47,96.27" fill="#072b34"/>
<path d="M385.30 682.70 L384.13 682.91 L382.97 683.09 L381.83 683.24 L380.72 683.36 L379.62 683.45 L378.54 683.50 L377.48 683.53 L376.44 683.53 L375.43 683.50 L374.43 683.44 L373.45 683.35 L372.49 683.24 L371.55 683.10 L370.64 682.93 L369.74 682.74 L368.86 682.52 L368.01 682.28 L367.17 682.01 L366.36 681.72 L365.56 681.40 L364.79 681.07 L364.03 680.71 L363.30 680.33 L362.59 679.92 L361.90 679.50 L361.23 679.05 L360.58 678.59 L359.95 678.11 L359.35 677.60 L358.76 677.08 L358.20 676.54 L357.65 675.99 L357.13 675.41 L356.63 674.82 L356.15 674.22 L355.70 673.60 L355.26 672.96 L354.85 672.31 L354.45 671.64 L354.08 670.96 L353.74 670.27 L353.41 669.57 L353.11 668.85 L352.82 668.12 L352.56 667.38 L352.32 666.63 L352.11 665.87 L351.91 665.11 L351.74 664.33 L351.59 663.54 L351.47 662.74 L351.36 661.94 L351.28 661.13 L351.22 660.31 L351.18 659.48 L351.16 658.65 L351.15 657.81 L351.17 656.97 L351.21 656.12 L351.27 655.26 L351.34 654.40 L351.44 653.54 L351.55 652.67 L351.68 651.79 L351.82 650.92 L351.98 650.04 L352.16 649.15 L352.36 648.27 L352.57 647.38 L352.79 646.49 L353.03 645.59 L353.28 644.70 L353.55 643.80 L353.83 642.91 L354.13 642.01 L354.43 641.11 L354.75 640.22 L355.09 639.32 L355.43 638.43 L355.78 637.53 L356.15 636.64 L356.53 635.75 L356.91 634.86 L357.31 633.97 L357.71 633.09 L358.13 632.21 L358.55 631.33 L358.98 630.46 L359.42 629.59 L359.87 628.72 L360.32 627.86 L360.79 627.01 L361.25 626.16 L361.73 625.31 L362.20 624.48 L362.69 623.64 L363.18 622.82 L363.67 622.00 L364.17 621.19 L364.67 620.39 L365.18 619.59 L365.68 618.80 L366.19 618.02 L366.71 617.26 L367.22 616.49 L367.74 615.74 L368.25 615.00 L368.77 614.27 L369.29 613.55 L369.81 612.84 L370.32 612.14 L370.84 611.46 L371.36 610.78 L371.87 610.12 L372.38 609.47 L372.89 608.83 L373.40 608.21 L373.90 607.60" fill="none" stroke="#234852" stroke-width="1.05"/>
<path d="M385.30 731.85 L383.56 731.84 L381.85 731.78 L380.17 731.68 L378.53 731.54 L376.92 731.36 L375.34 731.14 L373.80 730.88 L372.29 730.58 L370.82 730.25 L369.37 729.88 L367.97 729.47 L366.59 729.03 L365.25 728.55 L363.94 728.04 L362.66 727.49 L361.42 726.92 L360.21 726.31 L359.03 725.66 L357.89 724.99 L356.77 724.29 L355.69 723.56 L354.65 722.80 L353.63 722.01 L352.65 721.20 L351.69 720.35 L350.77 719.49 L349.88 718.59 L349.03 717.68 L348.20 716.74 L347.41 715.77 L346.64 714.78 L345.91 713.77 L345.21 712.74 L344.54 711.69 L343.91 710.62 L343.30 709.53 L342.72 708.43 L342.18 707.30 L341.66 706.16 L341.17 705.00 L340.72 703.82 L340.30 702.63 L339.90 701.43 L339.54 700.21 L339.20 698.98 L338.90 697.74 L338.62 696.48 L338.38 695.22 L338.17 693.94 L337.98 692.66 L337.82 691.36 L337.70 690.06 L337.60 688.75 L337.53 687.43 L337.49 686.11 L337.48 684.78 L337.50 683.45 L337.54 682.11 L337.62 680.77 L337.72 679.42 L337.86 678.08 L338.02 676.73 L338.21 675.38 L338.42 674.03 L338.67 672.69 L338.94 671.34 L339.24 670.00 L339.57 668.65 L339.93 667.31 L340.31 665.98 L340.71 664.65 L341.14 663.32 L341.60 661.99 L342.08 660.67 L342.58 659.35 L343.10 658.03 L343.64 656.72 L344.20 655.41 L344.78 654.11 L345.38 652.81 L345.99 651.51 L346.63 650.22 L347.27 648.93 L347.94 647.65 L348.61 646.38 L349.30 645.11 L350.01 643.84 L350.72 642.58 L351.45 641.33 L352.18 640.08 L352.93 638.83 L353.68 637.60 L354.44 636.37 L355.21 635.14 L355.99 633.92 L356.77 632.71 L357.55 631.51 L358.34 630.31 L359.13 629.12 L359.93 627.94 L360.72 626.76 L361.52 625.59 L362.32 624.43 L363.11 623.28 L363.91 622.13 L364.70 620.99 L365.49 619.86 L366.27 618.74 L367.05 617.63 L367.82 616.53 L368.59 615.43 L369.35 614.35 L370.10 613.27 L370.85 612.20 L371.58 611.14 L372.30 610.09 L373.01 609.05 L373.71 608.02" fill="none" stroke="#234852" stroke-width="1.05"/>
<path d="M385.30 781.00 L383.23 780.91 L381.17 780.77 L379.12 780.58 L377.08 780.33 L375.05 780.04 L373.03 779.69 L371.03 779.28 L369.05 778.83 L367.08 778.33 L365.14 777.78 L363.22 777.19 L361.32 776.54 L359.45 775.85 L357.61 775.11 L355.80 774.33 L354.02 773.51 L352.28 772.63 L350.57 771.72 L348.90 770.77 L347.27 769.77 L345.68 768.73 L344.13 767.65 L342.63 766.53 L341.17 765.38 L339.77 764.18 L338.41 762.95 L337.10 761.68 L335.85 760.37 L334.66 759.03 L333.51 757.66 L332.42 756.25 L331.38 754.81 L330.39 753.34 L329.46 751.84 L328.57 750.32 L327.74 748.76 L326.95 747.18 L326.22 745.57 L325.53 743.94 L324.89 742.29 L324.30 740.61 L323.76 738.92 L323.26 737.20 L322.81 735.47 L322.41 733.71 L322.05 731.94 L321.74 730.16 L321.47 728.36 L321.25 726.55 L321.07 724.72 L320.93 722.88 L320.83 721.04 L320.78 719.18 L320.77 717.32 L320.80 715.45 L320.87 713.57 L320.98 711.69 L321.13 709.81 L321.32 707.92 L321.55 706.03 L321.81 704.14 L322.11 702.25 L322.46 700.37 L322.83 698.48 L323.25 696.61 L323.70 694.73 L324.18 692.86 L324.70 691.00 L325.26 689.15 L325.84 687.30 L326.47 685.47 L327.12 683.65 L327.81 681.84 L328.52 680.04 L329.27 678.25 L330.04 676.48 L330.85 674.71 L331.67 672.95 L332.53 671.21 L333.40 669.47 L334.30 667.74 L335.23 666.02 L336.17 664.32 L337.13 662.62 L338.11 660.93 L339.11 659.24 L340.12 657.57 L341.15 655.91 L342.20 654.25 L343.25 652.60 L344.32 650.95 L345.40 649.32 L346.48 647.69 L347.58 646.07 L348.68 644.45 L349.79 642.84 L350.91 641.24 L352.02 639.64 L353.14 638.05 L354.27 636.46 L355.39 634.88 L356.51 633.30 L357.63 631.73 L358.75 630.16 L359.86 628.59 L360.97 627.03 L362.07 625.48 L363.17 623.92 L364.25 622.37 L365.33 620.83 L366.39 619.28 L367.45 617.74 L368.49 616.20 L369.52 614.66 L370.53 613.13 L371.52 611.59 L372.50 610.06 L373.46 608.53" fill="none" stroke="#234852" stroke-width="1.05"/>
<path d="M385.30 830.15 L382.64 830.04 L379.99 829.86 L377.37 829.60 L374.77 829.25 L372.20 828.84 L369.65 828.35 L367.13 827.79 L364.64 827.15 L362.17 826.45 L359.74 825.68 L357.34 824.84 L354.98 823.94 L352.65 822.97 L350.36 821.94 L348.11 820.85 L345.90 819.69 L343.72 818.49 L341.60 817.22 L339.51 815.90 L337.47 814.52 L335.48 813.09 L333.53 811.61 L331.64 810.09 L329.79 808.51 L328.00 806.88 L326.26 805.22 L324.58 803.50 L322.95 801.75 L321.38 799.95 L319.87 798.11 L318.42 796.24 L317.03 794.33 L315.70 792.38 L314.44 790.40 L313.25 788.39 L312.11 786.35 L311.05 784.27 L310.04 782.17 L309.10 780.04 L308.22 777.89 L307.40 775.71 L306.65 773.51 L305.96 771.29 L305.32 769.05 L304.75 766.79 L304.24 764.51 L303.79 762.22 L303.40 759.91 L303.07 757.60 L302.80 755.27 L302.59 752.93 L302.44 750.58 L302.34 748.22 L302.30 745.86 L302.32 743.50 L302.40 741.13 L302.53 738.76 L302.72 736.39 L302.97 734.02 L303.27 731.66 L303.63 729.30 L304.04 726.94 L304.51 724.59 L305.03 722.25 L305.61 719.92 L306.23 717.60 L306.91 715.29 L307.63 712.98 L308.40 710.69 L309.22 708.40 L310.08 706.12 L310.99 703.85 L311.93 701.59 L312.92 699.33 L313.94 697.09 L315.00 694.85 L316.09 692.62 L317.22 690.41 L318.38 688.20 L319.57 685.99 L320.80 683.80 L322.04 681.62 L323.32 679.44 L324.62 677.28 L325.94 675.12 L327.29 672.97 L328.66 670.83 L330.04 668.70 L331.44 666.57 L332.86 664.46 L334.30 662.35 L335.74 660.26 L337.20 658.17 L338.67 656.09 L340.15 654.02 L341.63 651.96 L343.12 649.91 L344.62 647.86 L346.12 645.83 L347.61 643.80 L349.11 641.79 L350.61 639.78 L352.11 637.78 L353.60 635.79 L355.08 633.81 L356.56 631.83 L358.02 629.87 L359.48 627.91 L360.93 625.97 L362.36 624.03 L363.77 622.10 L365.17 620.18 L366.56 618.27 L367.92 616.37 L369.26 614.48 L370.58 612.60 L371.88 610.72 L373.15 608.86" fill="none" stroke="#234852" stroke-width="1.05"/>
<path d="M385.30 879.30 L382.41 879.14 L379.49 878.91 L376.55 878.58 L373.58 878.18 L370.59 877.69 L367.58 877.12 L364.57 876.48 L361.54 875.75 L358.52 874.95 L355.49 874.07 L352.47 873.12 L349.46 872.09 L346.46 870.99 L343.47 869.82 L340.51 868.58 L337.57 867.27 L334.66 865.90 L331.79 864.45 L328.94 862.94 L326.14 861.37 L323.39 859.73 L320.68 858.03 L318.03 856.26 L315.43 854.44 L312.90 852.56 L310.42 850.62 L308.02 848.62 L305.69 846.57 L303.44 844.46 L301.27 842.30 L299.18 840.09 L297.18 837.83 L295.27 835.51 L293.46 833.15 L291.75 830.74 L290.15 828.28 L288.65 825.78 L287.27 823.23 L286.00 820.64 L284.85 818.01 L283.82 815.34 L282.90 812.63 L282.09 809.89 L281.39 807.11 L280.79 804.30 L280.30 801.47 L279.90 798.61 L279.60 795.72 L279.38 792.82 L279.26 789.89 L279.23 786.95 L279.28 784.00 L279.41 781.03 L279.61 778.06 L279.89 775.08 L280.25 772.09 L280.67 769.10 L281.16 766.11 L281.71 763.12 L282.32 760.13 L282.98 757.16 L283.70 754.19 L284.47 751.23 L285.29 748.29 L286.16 745.36 L287.07 742.45 L288.03 739.54 L289.03 736.66 L290.07 733.79 L291.16 730.93 L292.28 728.08 L293.44 725.25 L294.65 722.44 L295.89 719.64 L297.16 716.85 L298.47 714.07 L299.82 711.31 L301.20 708.56 L302.61 705.83 L304.06 703.11 L305.53 700.40 L307.04 697.71 L308.57 695.03 L310.13 692.36 L311.72 689.71 L313.33 687.07 L314.97 684.44 L316.63 681.83 L318.31 679.23 L320.02 676.64 L321.74 674.07 L323.49 671.50 L325.25 668.96 L327.03 666.42 L328.83 663.90 L330.64 661.38 L332.47 658.89 L334.31 656.40 L336.17 653.93 L338.04 651.47 L339.91 649.02 L341.80 646.58 L343.70 644.16 L345.60 641.75 L347.51 639.35 L349.42 636.96 L351.35 634.58 L353.27 632.22 L355.20 629.87 L357.13 627.53 L359.05 625.20 L360.98 622.89 L362.91 620.58 L364.84 618.29 L366.76 616.01 L368.68 613.74 L370.59 611.48 L372.50 609.24" fill="none" stroke="#234852" stroke-width="1.05"/>
<path d="M385.30 928.45 L381.93 928.13 L378.53 927.72 L375.10 927.22 L371.63 926.63 L368.14 925.94 L364.63 925.17 L361.11 924.31 L357.57 923.37 L354.02 922.34 L350.47 921.23 L346.92 920.03 L343.38 918.76 L339.84 917.40 L336.32 915.97 L332.82 914.45 L329.33 912.86 L325.87 911.20 L322.45 909.46 L319.05 907.65 L315.70 905.77 L312.38 903.82 L309.12 901.79 L305.90 899.70 L302.74 897.55 L299.64 895.33 L296.60 893.04 L293.63 890.69 L290.73 888.28 L287.91 885.81 L285.17 883.27 L282.51 880.68 L279.95 878.04 L277.47 875.33 L275.09 872.58 L272.81 869.76 L270.64 866.90 L268.58 863.99 L266.63 861.02 L264.80 858.01 L263.10 854.95 L261.51 851.84 L260.06 848.69 L258.75 845.49 L257.57 842.25 L256.54 838.97 L255.65 835.65 L254.92 832.29 L254.34 828.89 L253.91 825.46 L253.63 821.99 L253.48 818.50 L253.47 814.98 L253.60 811.44 L253.84 807.89 L254.21 804.31 L254.69 800.72 L255.27 797.13 L255.97 793.52 L256.76 789.92 L257.64 786.31 L258.61 782.71 L259.67 779.11 L260.80 775.52 L262.01 771.95 L263.28 768.39 L264.61 764.85 L266.00 761.33 L267.45 757.84 L268.94 754.37 L270.47 750.94 L272.03 747.54 L273.63 744.18 L275.26 740.85 L276.93 737.55 L278.62 734.28 L280.34 731.05 L282.09 727.84 L283.87 724.66 L285.68 721.50 L287.51 718.37 L289.36 715.27 L291.24 712.18 L293.15 709.11 L295.07 706.06 L297.02 703.03 L298.98 700.02 L300.97 697.02 L302.97 694.03 L304.99 691.05 L307.03 688.08 L309.08 685.13 L311.15 682.18 L313.24 679.23 L315.33 676.29 L317.45 673.37 L319.58 670.45 L321.74 667.54 L323.91 664.64 L326.11 661.76 L328.33 658.89 L330.57 656.03 L332.84 653.19 L335.13 650.36 L337.45 647.54 L339.78 644.74 L342.14 641.95 L344.52 639.18 L346.92 636.42 L349.34 633.68 L351.77 630.95 L354.23 628.23 L356.70 625.53 L359.18 622.84 L361.68 620.17 L364.20 617.51 L366.73 614.86 L369.28 612.23 L371.83 609.61" fill="none" stroke="#234852" stroke-width="1.05"/>
<path d="M385.30 977.60 L381.61 976.85 L377.86 976.02 L374.05 975.13 L370.18 974.15 L366.27 973.11 L362.31 971.99 L358.32 970.80 L354.29 969.54 L350.24 968.21 L346.17 966.80 L342.09 965.32 L337.99 963.77 L333.90 962.15 L329.80 960.45 L325.72 958.69 L321.65 956.85 L317.59 954.94 L313.57 952.95 L309.57 950.90 L305.61 948.77 L301.70 946.58 L297.83 944.31 L294.01 941.97 L290.26 939.56 L286.57 937.08 L282.95 934.53 L279.40 931.90 L275.94 929.21 L272.57 926.45 L269.29 923.61 L266.11 920.71 L263.03 917.73 L260.06 914.69 L257.21 911.57 L254.49 908.39 L251.89 905.13 L249.42 901.81 L247.09 898.41 L244.90 894.95 L242.87 891.42 L240.99 887.81 L239.27 884.14 L237.72 880.40 L236.32 876.60 L235.08 872.74 L233.99 868.83 L233.05 864.87 L232.26 860.87 L231.62 856.82 L231.11 852.74 L230.75 848.62 L230.52 844.48 L230.43 840.32 L230.47 836.14 L230.64 831.94 L230.94 827.73 L231.35 823.52 L231.89 819.30 L232.55 815.09 L233.32 810.88 L234.20 806.69 L235.20 802.51 L236.30 798.35 L237.51 794.22 L238.81 790.11 L240.22 786.04 L241.72 782.00 L243.32 778.01 L245.01 774.06 L246.78 770.16 L248.64 766.32 L250.59 762.53 L252.61 758.78 L254.70 755.09 L256.86 751.44 L259.09 747.83 L261.38 744.27 L263.73 740.74 L266.13 737.24 L268.58 733.78 L271.08 730.35 L273.61 726.95 L276.19 723.57 L278.80 720.21 L281.43 716.87 L284.10 713.55 L286.78 710.25 L289.48 706.96 L292.20 703.68 L294.92 700.41 L297.65 697.14 L300.39 693.87 L303.12 690.61 L305.84 687.34 L308.55 684.07 L311.25 680.79 L313.93 677.50 L316.58 674.20 L319.21 670.88 L321.81 667.55 L324.38 664.20 L326.91 660.82 L329.42 657.44 L331.91 654.05 L334.40 650.66 L336.89 647.28 L339.41 643.91 L341.94 640.56 L344.52 637.24 L347.13 633.96 L349.81 630.71 L352.55 627.51 L355.36 624.37 L358.27 621.29 L361.26 618.27 L364.36 615.32 L367.58 612.46 L370.92 609.68" fill="none" stroke="#234852" stroke-dasharray="3.6 2.5" stroke-width="1.1"/>
<path d="M385.30 1026.75 L381.22 1025.16 L377.08 1023.56 L372.88 1021.93 L368.62 1020.29 L364.31 1018.62 L359.96 1016.92 L355.58 1015.19 L351.16 1013.43 L346.71 1011.63 L342.25 1009.79 L337.77 1007.91 L333.29 1005.99 L328.81 1004.02 L324.33 1001.99 L319.87 999.91 L315.42 997.78 L311.00 995.58 L306.60 993.33 L302.25 991.00 L297.93 988.61 L293.67 986.14 L289.46 983.60 L285.31 980.98 L281.22 978.29 L277.21 975.50 L273.28 972.63 L269.43 969.67 L265.68 966.62 L262.02 963.48 L258.46 960.23 L255.02 956.88 L251.68 953.44 L248.46 949.90 L245.36 946.26 L242.37 942.55 L239.51 938.74 L236.76 934.86 L234.14 930.91 L231.64 926.88 L229.27 922.78 L227.03 918.62 L224.91 914.40 L222.93 910.13 L221.09 905.80 L219.38 901.42 L217.80 897.00 L216.37 892.54 L215.08 888.04 L213.93 883.51 L212.92 878.95 L212.07 874.36 L211.36 869.75 L210.80 865.13 L210.39 860.49 L210.14 855.84 L210.04 851.18 L210.11 846.53 L210.33 841.87 L210.71 837.23 L211.25 832.59 L211.97 827.96 L212.84 823.35 L213.89 818.77 L215.11 814.20 L216.50 809.67 L218.06 805.17 L219.80 800.71 L221.71 796.28 L223.78 791.90 L225.98 787.55 L228.29 783.24 L230.70 778.97 L233.17 774.74 L235.70 770.53 L238.26 766.37 L240.85 762.24 L243.46 758.14 L246.11 754.07 L248.79 750.03 L251.50 746.03 L254.23 742.06 L256.99 738.11 L259.78 734.20 L262.60 730.31 L265.44 726.45 L268.30 722.62 L271.20 718.81 L274.11 715.03 L277.05 711.28 L280.02 707.55 L283.01 703.84 L286.02 700.16 L289.06 696.50 L292.11 692.86 L295.19 689.24 L298.29 685.64 L301.41 682.06 L304.55 678.50 L307.71 674.96 L310.89 671.44 L314.09 667.93 L317.31 664.44 L320.54 660.97 L323.80 657.51 L327.07 654.07 L330.35 650.64 L333.66 647.22 L336.98 643.82 L340.31 640.42 L343.66 637.04 L347.02 633.67 L350.40 630.31 L353.79 626.96 L357.20 623.61 L360.61 620.28 L364.04 616.95 L367.48 613.63 L370.94 610.31" fill="none" stroke="#234852" stroke-dasharray="3.6 2.5" stroke-width="1.1"/>
<path d="M385.30 1075.90 L380.34 1074.08 L375.37 1072.23 L370.39 1070.33 L365.40 1068.38 L360.41 1066.39 L355.43 1064.36 L350.44 1062.27 L345.47 1060.13 L340.50 1057.94 L335.55 1055.70 L330.62 1053.39 L325.70 1051.03 L320.81 1048.61 L315.95 1046.13 L311.12 1043.59 L306.32 1040.98 L301.56 1038.30 L296.84 1035.55 L292.16 1032.74 L287.53 1029.85 L282.95 1026.88 L278.42 1023.85 L273.95 1020.73 L269.54 1017.53 L265.20 1014.26 L260.92 1010.90 L256.71 1007.45 L252.57 1003.92 L248.51 1000.30 L244.53 996.59 L240.63 992.79 L236.82 988.90 L233.10 984.91 L229.47 980.82 L225.94 976.63 L222.51 972.35 L219.18 967.97 L215.96 963.49 L212.86 958.94 L209.87 954.30 L207.00 949.58 L204.27 944.80 L201.67 939.95 L199.20 935.04 L196.88 930.07 L194.70 925.06 L192.68 920.00 L190.81 914.90 L189.10 909.77 L187.56 904.61 L186.20 899.42 L185.00 894.22 L183.99 889.00 L183.16 883.77 L182.53 878.54 L182.08 873.31 L181.84 868.09 L181.80 862.88 L181.97 857.69 L182.36 852.52 L182.96 847.38 L183.79 842.27 L184.84 837.20 L186.13 832.17 L187.66 827.19 L189.43 822.26 L191.43 817.39 L193.63 812.57 L196.02 807.80 L198.56 803.07 L201.22 798.38 L203.98 793.74 L206.82 789.13 L209.71 784.55 L212.64 780.01 L215.63 775.50 L218.66 771.03 L221.74 766.58 L224.87 762.17 L228.04 757.79 L231.25 753.44 L234.51 749.12 L237.81 744.83 L241.14 740.57 L244.52 736.34 L247.93 732.14 L251.38 727.96 L254.87 723.82 L258.39 719.70 L261.94 715.61 L265.52 711.55 L269.14 707.51 L272.79 703.50 L276.46 699.51 L280.16 695.55 L283.89 691.62 L287.65 687.70 L291.42 683.82 L295.22 679.95 L299.05 676.11 L302.89 672.30 L306.76 668.50 L310.64 664.73 L314.54 660.98 L318.46 657.24 L322.39 653.53 L326.34 649.84 L330.30 646.17 L334.27 642.52 L338.25 638.89 L342.24 635.28 L346.24 631.69 L350.25 628.11 L354.27 624.55 L358.29 621.01 L362.31 617.48 L366.34 613.97 L370.37 610.48" fill="none" stroke="#234852" stroke-dasharray="3.6 2.5" stroke-width="1.1"/>
<path d="M389.00 1125.05 L383.44 1122.74 L377.86 1120.42 L372.29 1118.08 L366.70 1115.72 L361.12 1113.35 L355.54 1110.95 L349.96 1108.52 L344.38 1106.07 L338.81 1103.58 L333.25 1101.06 L327.70 1098.50 L322.17 1095.90 L316.65 1093.26 L311.15 1090.57 L305.67 1087.83 L300.21 1085.03 L294.78 1082.18 L289.37 1079.28 L284.00 1076.31 L278.65 1073.28 L273.34 1070.18 L268.06 1067.01 L262.83 1063.77 L257.63 1060.45 L252.47 1057.06 L247.36 1053.58 L242.30 1050.02 L237.30 1046.37 L232.37 1042.63 L227.52 1038.79 L222.76 1034.86 L218.10 1030.82 L213.56 1026.68 L209.14 1022.43 L204.85 1018.07 L200.71 1013.60 L196.72 1009.01 L192.90 1004.29 L189.26 999.45 L185.79 994.49 L182.50 989.43 L179.38 984.25 L176.45 978.97 L173.69 973.61 L171.12 968.15 L168.72 962.61 L166.51 957.00 L164.47 951.31 L162.63 945.57 L160.96 939.77 L159.48 933.91 L158.18 928.02 L157.07 922.08 L156.14 916.11 L155.40 910.12 L154.85 904.10 L154.49 898.08 L154.31 892.04 L154.32 886.00 L154.53 879.97 L154.92 873.95 L155.51 867.95 L156.29 861.97 L157.26 856.02 L158.42 850.10 L159.78 844.23 L161.33 838.40 L163.08 832.63 L165.02 826.92 L167.16 821.27 L169.50 815.70 L172.03 810.21 L174.76 804.80 L177.68 799.47 L180.78 794.22 L184.04 789.05 L187.45 783.95 L191.01 778.91 L194.70 773.95 L198.51 769.05 L202.43 764.21 L206.45 759.43 L210.56 754.70 L214.75 750.03 L219.00 745.40 L223.31 740.83 L227.67 736.29 L232.05 731.80 L236.46 727.34 L240.88 722.92 L245.30 718.53 L249.72 714.17 L254.13 709.84 L258.54 705.54 L262.95 701.26 L267.36 697.02 L271.77 692.80 L276.18 688.61 L280.59 684.44 L285.01 680.30 L289.44 676.18 L293.88 672.09 L298.33 668.03 L302.81 663.99 L307.30 659.98 L311.81 655.99 L316.36 652.04 L320.93 648.11 L325.54 644.22 L330.19 640.35 L334.89 636.51 L339.63 632.71 L344.42 628.93 L349.26 625.19 L354.16 621.49 L359.12 617.81 L364.14 614.17 L369.24 610.57" fill="none" stroke="#234852" stroke-dasharray="3.6 2.5" stroke-width="1.1"/>
<polygon points="374.40,607.00 370.97,614.60 369.84,610.25 366.10,607.75" fill="#072b34"/>
<rect x="417.95" y="97.10" width="10.5" height="10.2" rx="1.6" fill="#fff" stroke="#c5cfd0" stroke-width="0.8"/>
<text x="423.20" y="104.80" font-size="6.6" text-anchor="middle" fill="#4a4a4a">19</text>
<rect x="419.35" y="150.80" width="10.5" height="10.2" rx="1.6" fill="#fff" stroke="#c5cfd0" stroke-width="0.8"/>
<text x="424.60" y="158.50" font-size="6.6" text-anchor="middle" fill="#4a4a4a">17</text>
<rect x="416.35" y="197.30" width="10.5" height="10.2" rx="1.6" fill="#fff" stroke="#c5cfd0" stroke-width="0.8"/>
<text x="421.60" y="205.00" font-size="6.6" text-anchor="middle" fill="#4a4a4a">15</text>
<rect x="418.35" y="248.50" width="10.5" height="10.2" rx="1.6" fill="#fff" stroke="#c5cfd0" stroke-width="0.8"/>
<text x="423.60" y="256.20" font-size="6.6" text-anchor="middle" fill="#4a4a4a">13</text>
<rect x="418.05" y="298.50" width="10.5" height="10.2" rx="1.6" fill="#fff" stroke="#c5cfd0" stroke-width="0.8"/>
<text x="423.30" y="306.20" font-size="6.6" text-anchor="middle" fill="#4a4a4a">11</text>
<rect x="415.50" y="345.60" width="7.4" height="10.2" rx="1.6" fill="#fff" stroke="#c5cfd0" stroke-width="0.8"/>
<text x="419.20" y="353.30" font-size="6.6" text-anchor="middle" fill="#4a4a4a">9</text>
<rect x="414.55" y="394.40" width="7.4" height="10.2" rx="1.6" fill="#fff" stroke="#c5cfd0" stroke-width="0.8"/>
<text x="418.25" y="402.10" font-size="6.6" text-anchor="middle" fill="#4a4a4a">7</text>
<rect x="414.30" y="442.40" width="7.4" height="10.2" rx="1.6" fill="#fff" stroke="#c5cfd0" stroke-width="0.8"/>
<text x="418.00" y="450.10" font-size="6.6" text-anchor="middle" fill="#4a4a4a">5</text>
<rect x="413.30" y="491.15" width="7.4" height="10.2" rx="1.6" fill="#fff" stroke="#c5cfd0" stroke-width="0.8"/>
<text x="417.00" y="498.85" font-size="6.6" text-anchor="middle" fill="#4a4a4a">3</text>
<rect x="414.30" y="539.90" width="7.4" height="10.2" rx="1.6" fill="#fff" stroke="#c5cfd0" stroke-width="0.8"/>
<text x="418.00" y="547.60" font-size="6.6" text-anchor="middle" fill="#4a4a4a">1</text>
<rect x="369.90" y="677.40" width="7.4" height="10.2" rx="1.6" fill="#fff" stroke="#c5cfd0" stroke-width="0.8"/>
<text x="373.60" y="685.10" font-size="6.6" text-anchor="middle" fill="#4a4a4a">2</text>
<rect x="368.80" y="724.90" width="7.4" height="10.2" rx="1.6" fill="#fff" stroke="#c5cfd0" stroke-width="0.8"/>
<text x="372.50" y="732.60" font-size="6.6" text-anchor="middle" fill="#4a4a4a">4</text>
<rect x="368.05" y="773.15" width="7.4" height="10.2" rx="1.6" fill="#fff" stroke="#c5cfd0" stroke-width="0.8"/>
<text x="371.75" y="780.85" font-size="6.6" text-anchor="middle" fill="#4a4a4a">6</text>
<rect x="368.40" y="822.30" width="7.4" height="10.2" rx="1.6" fill="#fff" stroke="#c5cfd0" stroke-width="0.8"/>
<text x="372.10" y="830.00" font-size="6.6" text-anchor="middle" fill="#4a4a4a">8</text>
<rect x="366.85" y="872.00" width="10.5" height="10.2" rx="1.6" fill="#fff" stroke="#c5cfd0" stroke-width="0.8"/>
<text x="372.10" y="879.70" font-size="6.6" text-anchor="middle" fill="#4a4a4a">10</text>
<rect x="364.25" y="919.80" width="10.5" height="10.2" rx="1.6" fill="#fff" stroke="#c5cfd0" stroke-width="0.8"/>
<text x="369.50" y="927.50" font-size="6.6" text-anchor="middle" fill="#4a4a4a">12</text>
<rect x="366.85" y="969.50" width="10.5" height="10.2" rx="1.6" fill="#fff" stroke="#c5cfd0" stroke-width="0.8"/>
<text x="372.10" y="977.20" font-size="6.6" text-anchor="middle" fill="#4a4a4a">14</text>
<rect x="365.45" y="1016.90" width="10.5" height="10.2" rx="1.6" fill="#fff" stroke="#c5cfd0" stroke-width="0.8"/>
<text x="370.70" y="1024.60" font-size="6.6" text-anchor="middle" fill="#4a4a4a">16</text>
<rect x="363.50" y="1064.40" width="10.5" height="10.2" rx="1.6" fill="#fff" stroke="#c5cfd0" stroke-width="0.8"/>
<text x="368.75" y="1072.10" font-size="6.6" text-anchor="middle" fill="#4a4a4a">18</text>
<rect x="364.25" y="1112.40" width="10.5" height="10.2" rx="1.6" fill="#fff" stroke="#c5cfd0" stroke-width="0.8"/>
<text x="369.50" y="1120.10" font-size="6.6" text-anchor="middle" fill="#4a4a4a">20</text>
<rect x="389.50" y="81.50" width="16" height="16" fill="#fff" stroke="#8686d6" stroke-width="1"/>
<path d="M394.20 93.70 Q394.20 90.10 397.50 90.10 Q400.80 90.10 400.80 93.70 Z" fill="#2fa8a0"/><ellipse cx="397.50" cy="87.90" rx="1.9" ry="2.2" fill="#f2b9a8"/><path d="M395.40 87.90 Q395.30 85.10 397.50 85.40 Q399.70 85.10 399.60 87.90 Q397.50 86.50 395.40 87.90 Z" fill="#333"/>
<rect x="385.60" y="130.80" width="16" height="16" fill="#fff" stroke="#8686d6" stroke-width="1"/>
<path d="M390.30 143.00 Q390.30 139.40 393.60 139.40 Q396.90 139.40 396.90 143.00 Z" fill="#222"/><path d="M392.90 139.60 H394.30 L394.00 142.80 H393.20 Z" fill="#5aa0d8"/><ellipse cx="393.60" cy="137.20" rx="1.9" ry="2.2" fill="#f2b9a8"/><path d="M391.50 137.20 Q391.40 134.40 393.60 134.70 Q395.80 134.40 395.70 137.20 Q393.60 135.80 391.50 137.20 Z" fill="#7a4a30"/>
<rect x="385.60" y="179.90" width="16" height="16" fill="#fff" stroke="#8686d6" stroke-width="1"/>
<path d="M390.30 192.10 Q390.30 188.50 393.60 188.50 Q396.90 188.50 396.90 192.10 Z" fill="#c9b452"/><ellipse cx="393.60" cy="186.30" rx="1.9" ry="2.2" fill="#f2b9a8"/><path d="M391.00 185.70 Q393.60 181.70 396.20 185.70 Z" fill="#d81818"/>
<rect x="385.60" y="229.00" width="16" height="16" fill="#fff" stroke="#8686d6" stroke-width="1"/>
<path d="M390.30 241.20 Q390.30 237.60 393.60 237.60 Q396.90 237.60 396.90 241.20 Z" fill="#333"/><path d="M392.90 237.80 H394.30 L394.00 241.00 H393.20 Z" fill="#ddd"/><ellipse cx="393.60" cy="235.40" rx="1.9" ry="2.2" fill="#f2b9a8"/><path d="M391.50 235.40 Q391.40 232.60 393.60 232.90 Q395.80 232.60 395.70 235.40 Q393.60 234.00 391.50 235.40 Z" fill="#333"/>
<rect x="385.60" y="278.10" width="16" height="16" fill="#fff" stroke="#8686d6" stroke-width="1"/>
<path d="M390.30 290.30 Q390.30 286.70 393.60 286.70 Q396.90 286.70 396.90 290.30 Z" fill="#666"/><path d="M392.90 286.90 H394.30 L394.00 290.10 H393.20 Z" fill="#c83030"/><ellipse cx="393.60" cy="284.50" rx="1.9" ry="2.2" fill="#f2b9a8"/><path d="M391.50 284.50 Q391.40 281.70 393.60 282.00 Q395.80 281.70 395.70 284.50 Q393.60 283.10 391.50 284.50 Z" fill="#b07a70"/>
<rect x="385.60" y="327.20" width="16" height="16" fill="#fff" stroke="#8686d6" stroke-width="1"/>
<path d="M390.30 339.40 Q390.30 335.80 393.60 335.80 Q396.90 335.80 396.90 339.40 Z" fill="#222"/><path d="M392.90 336.00 H394.30 L394.00 339.20 H393.20 Z" fill="#eee"/><path d="M391.20 336.70 Q391.00 330.60 393.60 330.80 Q396.20 330.60 396.00 336.70 Z" fill="#8a4a28"/><ellipse cx="393.60" cy="333.60" rx="1.9" ry="2.2" fill="#f2b9a8"/><path d="M391.50 333.60 Q391.40 330.80 393.60 331.10 Q395.80 330.80 395.70 333.60 Q393.60 332.20 391.50 333.60 Z" fill="#8a4a28"/>
<rect x="385.60" y="376.30" width="16" height="16" fill="#fff" stroke="#8686d6" stroke-width="1"/>
<path d="M390.30 388.50 Q390.30 384.90 393.60 384.90 Q396.90 384.90 396.90 388.50 Z" fill="#333"/><ellipse cx="393.60" cy="382.70" rx="1.9" ry="2.2" fill="#f2b9a8"/><path d="M391.50 382.70 Q391.40 379.90 393.60 380.20 Q395.80 379.90 395.70 382.70 Q393.60 381.30 391.50 382.70 Z" fill="#3a2a22"/>
<rect x="385.60" y="425.40" width="16" height="16" fill="#fff" stroke="#8686d6" stroke-width="1"/>
<path d="M390.30 437.60 Q390.30 434.00 393.60 434.00 Q396.90 434.00 396.90 437.60 Z" fill="#ddd"/><path d="M392.90 434.20 H394.30 L394.00 437.40 H393.20 Z" fill="#3a8ad0"/><ellipse cx="393.60" cy="431.80" rx="1.9" ry="2.2" fill="#f2b9a8"/><path d="M391.50 431.80 Q391.40 429.00 393.60 429.30 Q395.80 429.00 395.70 431.80 Q393.60 430.40 391.50 431.80 Z" fill="#7a4a30"/>
<rect x="385.60" y="474.50" width="16" height="16" fill="#fff" stroke="#8686d6" stroke-width="1"/>
<path d="M390.30 486.70 Q390.30 483.10 393.60 483.10 Q396.90 483.10 396.90 486.70 Z" fill="#e8e8e8"/><ellipse cx="393.60" cy="480.90" rx="1.9" ry="2.2" fill="#f2b9a8"/><path d="M391.50 480.90 Q391.40 478.10 393.60 478.40 Q395.80 478.10 395.70 480.90 Q393.60 479.50 391.50 480.90 Z" fill="#333"/>
<rect x="385.60" y="523.60" width="16" height="16" fill="#fff" stroke="#8686d6" stroke-width="1"/>
<path d="M390.30 535.80 Q390.30 532.20 393.60 532.20 Q396.90 532.20 396.90 535.80 Z" fill="#333"/><path d="M392.90 532.40 H394.30 L394.00 535.60 H393.20 Z" fill="#ddd"/><ellipse cx="393.60" cy="530.00" rx="1.9" ry="2.2" fill="#f2b9a8"/><path d="M391.50 530.00 Q391.40 527.20 393.60 527.50 Q395.80 527.20 395.70 530.00 Q393.60 528.60 391.50 530.00 Z" fill="#444"/>
<rect x="385.60" y="674.70" width="16" height="16" fill="#fff" stroke="#8686d6" stroke-width="1"/>
<path d="M390.30 686.90 Q390.30 683.30 393.60 683.30 Q396.90 683.30 396.90 686.90 Z" fill="#333"/><path d="M392.90 683.50 H394.30 L394.00 686.70 H393.20 Z" fill="#ddd"/><ellipse cx="393.60" cy="681.10" rx="1.9" ry="2.2" fill="#f2b9a8"/><path d="M391.50 681.10 Q391.40 678.30 393.60 678.60 Q395.80 678.30 395.70 681.10 Q393.60 679.70 391.50 681.10 Z" fill="#444"/>
<rect x="385.60" y="723.85" width="16" height="16" fill="#fff" stroke="#8686d6" stroke-width="1"/>
<path d="M390.30 736.05 Q390.30 732.45 393.60 732.45 Q396.90 732.45 396.90 736.05 Z" fill="#e8e8e8"/><ellipse cx="393.60" cy="730.25" rx="1.9" ry="2.2" fill="#f2b9a8"/><path d="M391.50 730.25 Q391.40 727.45 393.60 727.75 Q395.80 727.45 395.70 730.25 Q393.60 728.85 391.50 730.25 Z" fill="#333"/>
<rect x="385.60" y="773.00" width="16" height="16" fill="#fff" stroke="#8686d6" stroke-width="1"/>
<path d="M390.30 785.20 Q390.30 781.60 393.60 781.60 Q396.90 781.60 396.90 785.20 Z" fill="#ddd"/><path d="M392.90 781.80 H394.30 L394.00 785.00 H393.20 Z" fill="#3a8ad0"/><ellipse cx="393.60" cy="779.40" rx="1.9" ry="2.2" fill="#f2b9a8"/><path d="M391.50 779.40 Q391.40 776.60 393.60 776.90 Q395.80 776.60 395.70 779.40 Q393.60 778.00 391.50 779.40 Z" fill="#7a4a30"/>
<rect x="385.60" y="822.15" width="16" height="16" fill="#fff" stroke="#8686d6" stroke-width="1"/>
<path d="M390.30 834.35 Q390.30 830.75 393.60 830.75 Q396.90 830.75 396.90 834.35 Z" fill="#333"/><ellipse cx="393.60" cy="828.55" rx="1.9" ry="2.2" fill="#f2b9a8"/><path d="M391.50 828.55 Q391.40 825.75 393.60 826.05 Q395.80 825.75 395.70 828.55 Q393.60 827.15 391.50 828.55 Z" fill="#3a2a22"/>
<rect x="385.60" y="871.30" width="16" height="16" fill="#fff" stroke="#8686d6" stroke-width="1"/>
<path d="M390.30 883.50 Q390.30 879.90 393.60 879.90 Q396.90 879.90 396.90 883.50 Z" fill="#222"/><path d="M392.90 880.10 H394.30 L394.00 883.30 H393.20 Z" fill="#eee"/><path d="M391.20 880.80 Q391.00 874.70 393.60 874.90 Q396.20 874.70 396.00 880.80 Z" fill="#8a4a28"/><ellipse cx="393.60" cy="877.70" rx="1.9" ry="2.2" fill="#f2b9a8"/><path d="M391.50 877.70 Q391.40 874.90 393.60 875.20 Q395.80 874.90 395.70 877.70 Q393.60 876.30 391.50 877.70 Z" fill="#8a4a28"/>
<rect x="385.60" y="920.45" width="16" height="16" fill="#fff" stroke="#8686d6" stroke-width="1"/>
<path d="M390.30 932.65 Q390.30 929.05 393.60 929.05 Q396.90 929.05 396.90 932.65 Z" fill="#666"/><path d="M392.90 929.25 H394.30 L394.00 932.45 H393.20 Z" fill="#c83030"/><ellipse cx="393.60" cy="926.85" rx="1.9" ry="2.2" fill="#f2b9a8"/><path d="M391.50 926.85 Q391.40 924.05 393.60 924.35 Q395.80 924.05 395.70 926.85 Q393.60 925.45 391.50 926.85 Z" fill="#b07a70"/>
<rect x="385.60" y="969.60" width="16" height="16" fill="#fff" stroke="#8686d6" stroke-width="1"/>
<path d="M390.30 981.80 Q390.30 978.20 393.60 978.20 Q396.90 978.20 396.90 981.80 Z" fill="#333"/><path d="M392.90 978.40 H394.30 L394.00 981.60 H393.20 Z" fill="#ddd"/><ellipse cx="393.60" cy="976.00" rx="1.9" ry="2.2" fill="#f2b9a8"/><path d="M391.50 976.00 Q391.40 973.20 393.60 973.50 Q395.80 973.20 395.70 976.00 Q393.60 974.60 391.50 976.00 Z" fill="#333"/>
<rect x="385.60" y="1018.75" width="16" height="16" fill="#fff" stroke="#8686d6" stroke-width="1"/>
<path d="M390.30 1030.95 Q390.30 1027.35 393.60 1027.35 Q396.90 1027.35 396.90 1030.95 Z" fill="#c9b452"/><ellipse cx="393.60" cy="1025.15" rx="1.9" ry="2.2" fill="#f2b9a8"/><path d="M391.00 1024.55 Q393.60 1020.55 396.20 1024.55 Z" fill="#d81818"/>
<rect x="385.60" y="1067.90" width="16" height="16" fill="#fff" stroke="#8686d6" stroke-width="1"/>
<path d="M390.30 1080.10 Q390.30 1076.50 393.60 1076.50 Q396.90 1076.50 396.90 1080.10 Z" fill="#222"/><path d="M392.90 1076.70 H394.30 L394.00 1079.90 H393.20 Z" fill="#5aa0d8"/><ellipse cx="393.60" cy="1074.30" rx="1.9" ry="2.2" fill="#f2b9a8"/><path d="M391.50 1074.30 Q391.40 1071.50 393.60 1071.80 Q395.80 1071.50 395.70 1074.30 Q393.60 1072.90 391.50 1074.30 Z" fill="#7a4a30"/>
<rect x="389.50" y="1116.90" width="16" height="16" fill="#fff" stroke="#8686d6" stroke-width="1"/>
<path d="M394.20 1129.10 Q394.20 1125.50 397.50 1125.50 Q400.80 1125.50 400.80 1129.10 Z" fill="#2fa8a0"/><ellipse cx="397.50" cy="1123.30" rx="1.9" ry="2.2" fill="#f2b9a8"/><path d="M395.40 1123.30 Q395.30 1120.50 397.50 1120.80 Q399.70 1120.50 399.60 1123.30 Q397.50 1121.90 395.40 1123.30 Z" fill="#333"/>
<rect x="374.3" y="573.1" width="38.4" height="67.7" fill="#fcb0da" stroke="#f3a6d0" stroke-width="0.6"/>
<rect x="378" y="575.8" width="31" height="36.4" rx="2.2" fill="#fdfdfd"/>
<defs><linearGradient id="jk" x1="0" y1="0" x2="1" y2="0"><stop offset="0" stop-color="#5c3716"/><stop offset="0.5" stop-color="#9a6a38"/><stop offset="1" stop-color="#5c3716"/></linearGradient><radialGradient id="fc" cx="0.5" cy="0.4" r="0.6"><stop offset="0" stop-color="#f9d6cc"/><stop offset="1" stop-color="#e8a89a"/></radialGradient></defs>
<path d="M382.8 609.3 Q382.4 597.2 390.5 595.2 L396.5 595.2 Q404.6 597.2 404.2 609.3 Q393.5 610.5 382.8 609.3 Z" fill="url(#jk)"/>
<path d="M389.3 595.3 L393.5 608.8 L397.7 595.3 Z" fill="#262626"/>
<path d="M392.7 596.6 H394.3 L395.1 606.8 L393.5 609 L391.9 606.8 Z" fill="#d81414"/>
<ellipse cx="393.5" cy="588.3" rx="6.4" ry="7.2" fill="url(#fc)"/>
<path d="M386.6 589.5 Q385.4 583 387.5 580.6 Q384.5 580.4 383.8 581.6 Q386 577.2 392.5 577.8 Q400.8 578 400.6 585 L400.4 589.5 Q399.6 583.2 395.5 582.6 Q390.5 582.3 388.2 584.2 Q387.2 586 386.6 589.5 Z" fill="#9b9b9b"/>
<path d="M390.4 592.6 Q393.5 590.8 396.6 592.6 Q393.5 594.2 390.4 592.6 Z" fill="#a8a8a8"/>
<text x="394" y="632.5" font-size="23" font-weight="300" text-anchor="middle" fill="#111" transform="translate(394 0) scale(0.92 1) translate(-394 0)">나</text>
<circle cx="665.4" cy="53.4" r="30.6" fill="#f7981c"/>
<g stroke="#fff" stroke-width="1.6"><line x1="685.5" y1="26" x2="667" y2="43.5"/><line x1="689" y1="29" x2="670.5" y2="46.5"/><line x1="664" y1="63.5" x2="645.5" y2="79"/><line x1="667.5" y1="66" x2="649" y2="82"/></g>
<text x="667.2" y="62.2" font-size="24" text-anchor="middle" fill="#fff" letter-spacing="-1.1" font-weight="normal" stroke="#fff" stroke-width="0.9">BTC</text>
<text x="733.8" y="63" font-size="24.5" text-anchor="middle" fill="#2d2d2d" font-weight="bold" transform="translate(733.8 0) scale(0.94 1) translate(-733.8 0)">Rising</text>

<g>
<ellipse cx="80" cy="1187" rx="30" ry="2.5" fill="#efefef"/>
<path d="M59 1120.5 L59 1131 Q40 1134 30 1131 Q24 1128 23.5 1121 L23 1112 L33 1111 L33.5 1120 Q44 1122 59 1120.5 Z" fill="#2e2f33"/>
<path d="M98 1119.5 Q112 1119 119 1114.5 L119.5 1108 L130 1109 L129.5 1118 Q128.5 1125 121 1127 Q110 1129.5 98 1129 Z" fill="#2e2f33"/>
<ellipse cx="29" cy="1108.5" rx="7" ry="7.2" fill="#e9a98b"/>
<ellipse cx="124" cy="1107.5" rx="7" ry="7" fill="#e9a98b"/>
<path d="M57.5 1124 Q78 1121 98.6 1124 L98.6 1163 Q98.6 1166 95.5 1166 L60.5 1166 Q57.5 1166 57.5 1163 Z" fill="#45474c"/>
<path d="M57.5 1124 Q68 1122 78 1122 L78 1166 L60.5 1166 Q57.5 1166 57.5 1163 Z" fill="#4b4d52"/>
<rect x="62" y="1165" width="13" height="9" fill="#2d2e32"/>
<rect x="82.8" y="1165" width="13" height="9" fill="#2d2e32"/>
<path d="M53 1184 Q52 1174 63 1173 L74 1173 L74.5 1184 Z" fill="#5a6270"/>
<path d="M82.2 1184 L82.5 1173 L95 1173 Q107.5 1175 107.5 1184 Z" fill="#5a6270"/>
<rect x="53" y="1184" width="21.5" height="3" rx="1" fill="#a8987a"/>
<rect x="82.2" y="1184" width="25.3" height="3" rx="1" fill="#a8987a"/>
<path d="M58.6 1115 Q78 1112 96.3 1114 L96.3 1126.3 Q78 1125 58.6 1126.3 Z" fill="#d9393d"/>
<path d="M71 1117 L83.4 1117 L85.6 1140.4 L67 1140.4 Z" fill="#ee4448"/>
<ellipse cx="73.5" cy="1084" rx="36" ry="14" fill="#54555a" transform="rotate(-7 73.5 1084)"/>
<path d="M51 1088 Q50 1112 64 1115 Q78 1119 92 1114 Q101 1108 100 1086 Q76 1076 51 1088 Z" fill="#e3ab8c"/>
<path d="M54.5 1072 L58 1060 Q70 1054.5 81 1056.5 Q87 1058 90.5 1069.5 Q72 1069 54.5 1072 Z" fill="#4c4d52"/>
<path d="M54.2 1070.5 Q72 1066.5 90.5 1067.8 L91 1072.5 Q72 1072 53.5 1075.5 Z" fill="#8b8f95"/>
<path d="M58 1085 Q62 1078 71 1081 L71.5 1085 Q63 1083 58 1087 Z" fill="#d0d3d7"/>
<path d="M78 1080 Q87 1076 95 1081 L95 1085 Q87 1081 78.5 1084 Z" fill="#d0d3d7"/>
<circle cx="62" cy="1092.8" r="7.6" fill="#d8bcb2" stroke="#151515" stroke-width="1.8"/>
<circle cx="88.5" cy="1090.5" r="7.6" fill="#d8bcb2" stroke="#151515" stroke-width="1.8"/>
<circle cx="64" cy="1093" r="2.6" fill="#6b5a58"/>
<circle cx="86.5" cy="1091" r="2.6" fill="#6b5a58"/>
<ellipse cx="77.5" cy="1096" rx="4.8" ry="5.5" fill="#e6a484"/>
<path d="M58 1109 Q61 1100 70 1101 Q77 1099 84 1100 Q95 1100 97.5 1108 Q92 1107 86 1109 Q78 1106 70 1109 Q63 1111 58 1109 Z" fill="#b8c0ca"/>
<text x="78.3" y="1149.8" font-size="7.9" font-weight="bold" text-anchor="middle" fill="#f0f0f0" letter-spacing="0.1">Success</text>
<text x="78.3" y="1161" font-size="7.9" font-weight="bold" text-anchor="middle" fill="#f0f0f0" letter-spacing="0.1">plan</text>
</g>
<rect x="0.5" y="0.5" width="799" height="1207" fill="none" stroke="#7a7a7a" stroke-width="1"/>
</svg>
</body></html>
